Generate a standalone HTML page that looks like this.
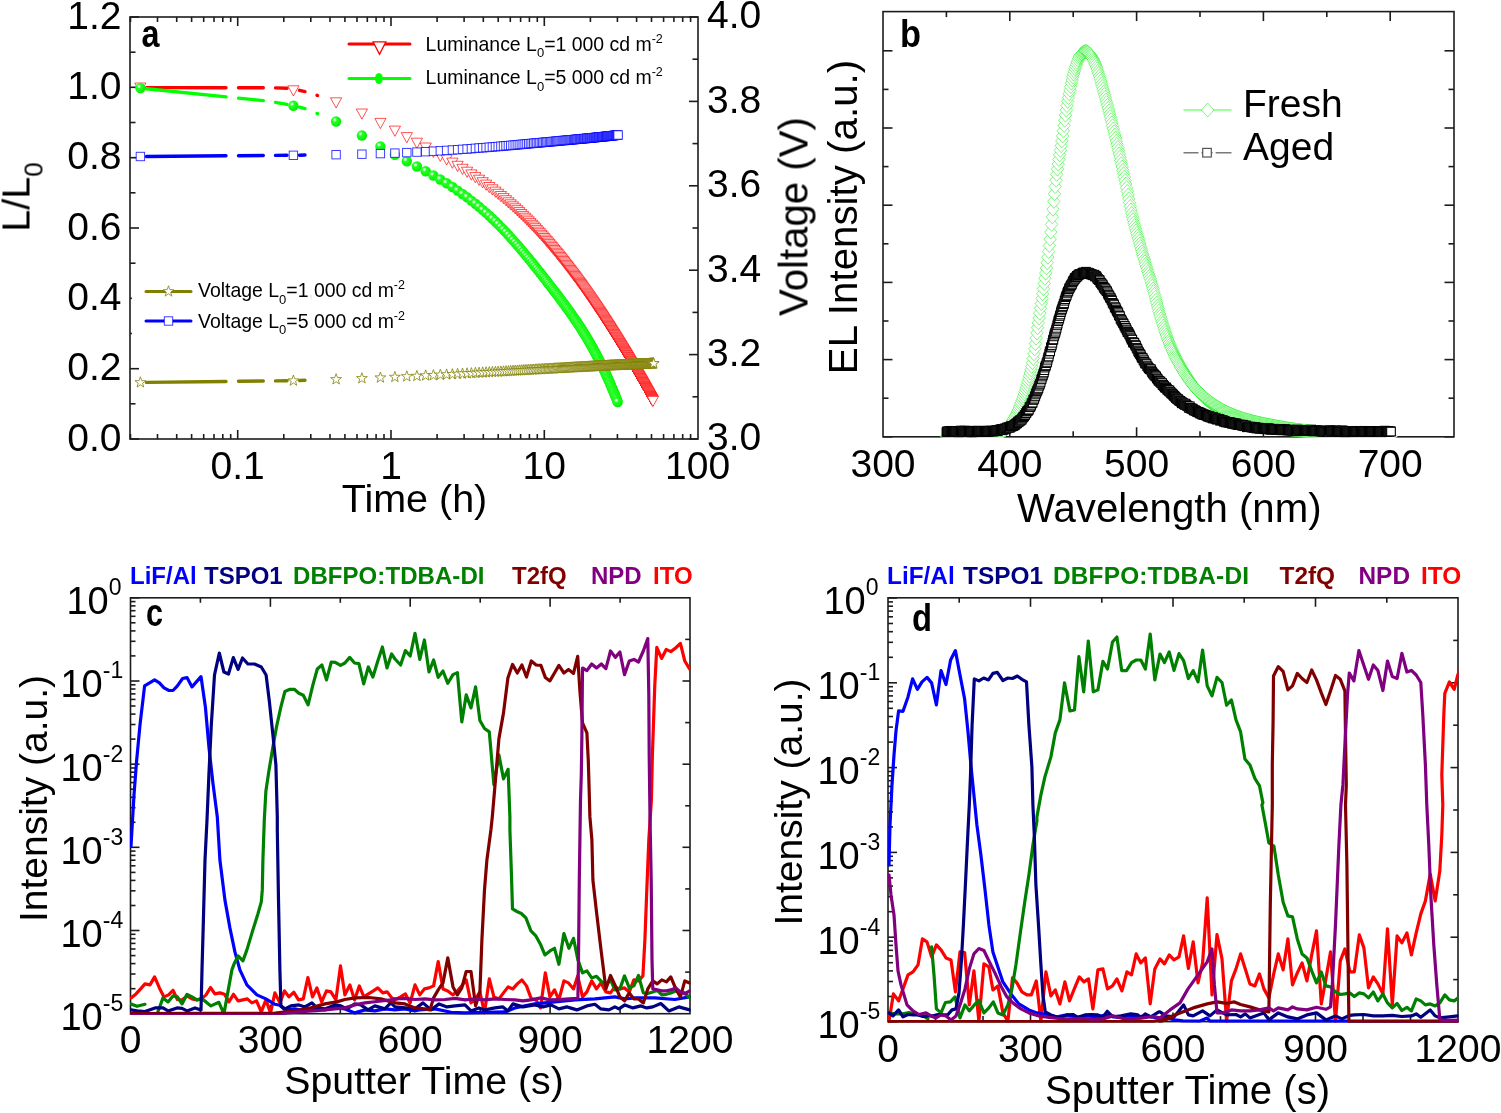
<!DOCTYPE html>
<html lang="en"><head><meta charset="utf-8"><title>Figure</title>
<style>
html,body{margin:0;padding:0;background:#fff;overflow:hidden}
svg{display:block;font-family:"Liberation Sans",Arial,sans-serif}
</style></head><body>
<svg width="1501" height="1113" viewBox="0 0 1501 1113">
<defs><filter id="soft" x="0" y="0" width="1501" height="1113" filterUnits="userSpaceOnUse" color-interpolation-filters="sRGB"><feGaussianBlur stdDeviation="0.55"/></filter>
<filter id="mark" x="0" y="0" width="1501" height="1113" filterUnits="userSpaceOnUse" color-interpolation-filters="sRGB"><feGaussianBlur stdDeviation="0.4"/></filter></defs>
<rect width="1501" height="1113" fill="#fff"/>
<g filter="url(#soft)">
<rect x="130.0" y="17.0" width="568.0" height="422.0" fill="none" stroke="#1c1c1c" stroke-width="1.6"/>
<line x1="130.0" y1="439.0" x2="139.0" y2="439.0" stroke="#1c1c1c" stroke-width="1.6" />
<text x="121.5" y="450.5" font-size="39" text-anchor="end" font-weight="normal" fill="#000" >0.0</text>
<line x1="130.0" y1="403.8" x2="135.5" y2="403.8" stroke="#1c1c1c" stroke-width="1.6" />
<line x1="130.0" y1="368.7" x2="139.0" y2="368.7" stroke="#1c1c1c" stroke-width="1.6" />
<text x="121.5" y="380.2" font-size="39" text-anchor="end" font-weight="normal" fill="#000" >0.2</text>
<line x1="130.0" y1="333.5" x2="135.5" y2="333.5" stroke="#1c1c1c" stroke-width="1.6" />
<line x1="130.0" y1="298.3" x2="139.0" y2="298.3" stroke="#1c1c1c" stroke-width="1.6" />
<text x="121.5" y="309.8" font-size="39" text-anchor="end" font-weight="normal" fill="#000" >0.4</text>
<line x1="130.0" y1="263.2" x2="135.5" y2="263.2" stroke="#1c1c1c" stroke-width="1.6" />
<line x1="130.0" y1="228.0" x2="139.0" y2="228.0" stroke="#1c1c1c" stroke-width="1.6" />
<text x="121.5" y="239.5" font-size="39" text-anchor="end" font-weight="normal" fill="#000" >0.6</text>
<line x1="130.0" y1="192.8" x2="135.5" y2="192.8" stroke="#1c1c1c" stroke-width="1.6" />
<line x1="130.0" y1="157.7" x2="139.0" y2="157.7" stroke="#1c1c1c" stroke-width="1.6" />
<text x="121.5" y="169.2" font-size="39" text-anchor="end" font-weight="normal" fill="#000" >0.8</text>
<line x1="130.0" y1="122.5" x2="135.5" y2="122.5" stroke="#1c1c1c" stroke-width="1.6" />
<line x1="130.0" y1="87.3" x2="139.0" y2="87.3" stroke="#1c1c1c" stroke-width="1.6" />
<text x="121.5" y="98.8" font-size="39" text-anchor="end" font-weight="normal" fill="#000" >1.0</text>
<line x1="130.0" y1="52.2" x2="135.5" y2="52.2" stroke="#1c1c1c" stroke-width="1.6" />
<line x1="130.0" y1="17.0" x2="139.0" y2="17.0" stroke="#1c1c1c" stroke-width="1.6" />
<text x="121.5" y="28.5" font-size="39" text-anchor="end" font-weight="normal" fill="#000" >1.2</text>
<line x1="698.0" y1="439.0" x2="689.0" y2="439.0" stroke="#1c1c1c" stroke-width="1.6" />
<text x="707.0" y="450.3" font-size="39" text-anchor="start" font-weight="normal" fill="#000" >3.0</text>
<line x1="698.0" y1="396.8" x2="692.5" y2="396.8" stroke="#1c1c1c" stroke-width="1.6" />
<line x1="698.0" y1="354.6" x2="689.0" y2="354.6" stroke="#1c1c1c" stroke-width="1.6" />
<text x="707.0" y="365.9" font-size="39" text-anchor="start" font-weight="normal" fill="#000" >3.2</text>
<line x1="698.0" y1="312.4" x2="692.5" y2="312.4" stroke="#1c1c1c" stroke-width="1.6" />
<line x1="698.0" y1="270.2" x2="689.0" y2="270.2" stroke="#1c1c1c" stroke-width="1.6" />
<text x="707.0" y="281.5" font-size="39" text-anchor="start" font-weight="normal" fill="#000" >3.4</text>
<line x1="698.0" y1="228.0" x2="692.5" y2="228.0" stroke="#1c1c1c" stroke-width="1.6" />
<line x1="698.0" y1="185.8" x2="689.0" y2="185.8" stroke="#1c1c1c" stroke-width="1.6" />
<text x="707.0" y="197.1" font-size="39" text-anchor="start" font-weight="normal" fill="#000" >3.6</text>
<line x1="698.0" y1="143.6" x2="692.5" y2="143.6" stroke="#1c1c1c" stroke-width="1.6" />
<line x1="698.0" y1="101.4" x2="689.0" y2="101.4" stroke="#1c1c1c" stroke-width="1.6" />
<text x="707.0" y="112.7" font-size="39" text-anchor="start" font-weight="normal" fill="#000" >3.8</text>
<line x1="698.0" y1="59.2" x2="692.5" y2="59.2" stroke="#1c1c1c" stroke-width="1.6" />
<line x1="698.0" y1="17.0" x2="689.0" y2="17.0" stroke="#1c1c1c" stroke-width="1.6" />
<text x="707.0" y="28.3" font-size="39" text-anchor="start" font-weight="normal" fill="#000" >4.0</text>
<line x1="130.5" y1="439.0" x2="130.5" y2="434.0" stroke="#1c1c1c" stroke-width="1.6" />
<line x1="130.5" y1="17.0" x2="130.5" y2="22.0" stroke="#1c1c1c" stroke-width="1.6" />
<line x1="157.5" y1="439.0" x2="157.5" y2="434.0" stroke="#1c1c1c" stroke-width="1.6" />
<line x1="157.5" y1="17.0" x2="157.5" y2="22.0" stroke="#1c1c1c" stroke-width="1.6" />
<line x1="176.7" y1="439.0" x2="176.7" y2="434.0" stroke="#1c1c1c" stroke-width="1.6" />
<line x1="176.7" y1="17.0" x2="176.7" y2="22.0" stroke="#1c1c1c" stroke-width="1.6" />
<line x1="191.6" y1="439.0" x2="191.6" y2="434.0" stroke="#1c1c1c" stroke-width="1.6" />
<line x1="191.6" y1="17.0" x2="191.6" y2="22.0" stroke="#1c1c1c" stroke-width="1.6" />
<line x1="203.7" y1="439.0" x2="203.7" y2="434.0" stroke="#1c1c1c" stroke-width="1.6" />
<line x1="203.7" y1="17.0" x2="203.7" y2="22.0" stroke="#1c1c1c" stroke-width="1.6" />
<line x1="214.0" y1="439.0" x2="214.0" y2="434.0" stroke="#1c1c1c" stroke-width="1.6" />
<line x1="214.0" y1="17.0" x2="214.0" y2="22.0" stroke="#1c1c1c" stroke-width="1.6" />
<line x1="222.8" y1="439.0" x2="222.8" y2="434.0" stroke="#1c1c1c" stroke-width="1.6" />
<line x1="222.8" y1="17.0" x2="222.8" y2="22.0" stroke="#1c1c1c" stroke-width="1.6" />
<line x1="230.7" y1="439.0" x2="230.7" y2="434.0" stroke="#1c1c1c" stroke-width="1.6" />
<line x1="230.7" y1="17.0" x2="230.7" y2="22.0" stroke="#1c1c1c" stroke-width="1.6" />
<line x1="237.7" y1="439.0" x2="237.7" y2="430.0" stroke="#1c1c1c" stroke-width="1.6" />
<line x1="237.7" y1="17.0" x2="237.7" y2="26.0" stroke="#1c1c1c" stroke-width="1.6" />
<line x1="283.8" y1="439.0" x2="283.8" y2="434.0" stroke="#1c1c1c" stroke-width="1.6" />
<line x1="283.8" y1="17.0" x2="283.8" y2="22.0" stroke="#1c1c1c" stroke-width="1.6" />
<line x1="310.8" y1="439.0" x2="310.8" y2="434.0" stroke="#1c1c1c" stroke-width="1.6" />
<line x1="310.8" y1="17.0" x2="310.8" y2="22.0" stroke="#1c1c1c" stroke-width="1.6" />
<line x1="330.0" y1="439.0" x2="330.0" y2="434.0" stroke="#1c1c1c" stroke-width="1.6" />
<line x1="330.0" y1="17.0" x2="330.0" y2="22.0" stroke="#1c1c1c" stroke-width="1.6" />
<line x1="344.9" y1="439.0" x2="344.9" y2="434.0" stroke="#1c1c1c" stroke-width="1.6" />
<line x1="344.9" y1="17.0" x2="344.9" y2="22.0" stroke="#1c1c1c" stroke-width="1.6" />
<line x1="357.0" y1="439.0" x2="357.0" y2="434.0" stroke="#1c1c1c" stroke-width="1.6" />
<line x1="357.0" y1="17.0" x2="357.0" y2="22.0" stroke="#1c1c1c" stroke-width="1.6" />
<line x1="367.3" y1="439.0" x2="367.3" y2="434.0" stroke="#1c1c1c" stroke-width="1.6" />
<line x1="367.3" y1="17.0" x2="367.3" y2="22.0" stroke="#1c1c1c" stroke-width="1.6" />
<line x1="376.1" y1="439.0" x2="376.1" y2="434.0" stroke="#1c1c1c" stroke-width="1.6" />
<line x1="376.1" y1="17.0" x2="376.1" y2="22.0" stroke="#1c1c1c" stroke-width="1.6" />
<line x1="384.0" y1="439.0" x2="384.0" y2="434.0" stroke="#1c1c1c" stroke-width="1.6" />
<line x1="384.0" y1="17.0" x2="384.0" y2="22.0" stroke="#1c1c1c" stroke-width="1.6" />
<line x1="391.0" y1="439.0" x2="391.0" y2="430.0" stroke="#1c1c1c" stroke-width="1.6" />
<line x1="391.0" y1="17.0" x2="391.0" y2="26.0" stroke="#1c1c1c" stroke-width="1.6" />
<line x1="437.1" y1="439.0" x2="437.1" y2="434.0" stroke="#1c1c1c" stroke-width="1.6" />
<line x1="437.1" y1="17.0" x2="437.1" y2="22.0" stroke="#1c1c1c" stroke-width="1.6" />
<line x1="464.1" y1="439.0" x2="464.1" y2="434.0" stroke="#1c1c1c" stroke-width="1.6" />
<line x1="464.1" y1="17.0" x2="464.1" y2="22.0" stroke="#1c1c1c" stroke-width="1.6" />
<line x1="483.3" y1="439.0" x2="483.3" y2="434.0" stroke="#1c1c1c" stroke-width="1.6" />
<line x1="483.3" y1="17.0" x2="483.3" y2="22.0" stroke="#1c1c1c" stroke-width="1.6" />
<line x1="498.2" y1="439.0" x2="498.2" y2="434.0" stroke="#1c1c1c" stroke-width="1.6" />
<line x1="498.2" y1="17.0" x2="498.2" y2="22.0" stroke="#1c1c1c" stroke-width="1.6" />
<line x1="510.3" y1="439.0" x2="510.3" y2="434.0" stroke="#1c1c1c" stroke-width="1.6" />
<line x1="510.3" y1="17.0" x2="510.3" y2="22.0" stroke="#1c1c1c" stroke-width="1.6" />
<line x1="520.6" y1="439.0" x2="520.6" y2="434.0" stroke="#1c1c1c" stroke-width="1.6" />
<line x1="520.6" y1="17.0" x2="520.6" y2="22.0" stroke="#1c1c1c" stroke-width="1.6" />
<line x1="529.4" y1="439.0" x2="529.4" y2="434.0" stroke="#1c1c1c" stroke-width="1.6" />
<line x1="529.4" y1="17.0" x2="529.4" y2="22.0" stroke="#1c1c1c" stroke-width="1.6" />
<line x1="537.3" y1="439.0" x2="537.3" y2="434.0" stroke="#1c1c1c" stroke-width="1.6" />
<line x1="537.3" y1="17.0" x2="537.3" y2="22.0" stroke="#1c1c1c" stroke-width="1.6" />
<line x1="544.3" y1="439.0" x2="544.3" y2="430.0" stroke="#1c1c1c" stroke-width="1.6" />
<line x1="544.3" y1="17.0" x2="544.3" y2="26.0" stroke="#1c1c1c" stroke-width="1.6" />
<line x1="590.4" y1="439.0" x2="590.4" y2="434.0" stroke="#1c1c1c" stroke-width="1.6" />
<line x1="590.4" y1="17.0" x2="590.4" y2="22.0" stroke="#1c1c1c" stroke-width="1.6" />
<line x1="617.4" y1="439.0" x2="617.4" y2="434.0" stroke="#1c1c1c" stroke-width="1.6" />
<line x1="617.4" y1="17.0" x2="617.4" y2="22.0" stroke="#1c1c1c" stroke-width="1.6" />
<line x1="636.6" y1="439.0" x2="636.6" y2="434.0" stroke="#1c1c1c" stroke-width="1.6" />
<line x1="636.6" y1="17.0" x2="636.6" y2="22.0" stroke="#1c1c1c" stroke-width="1.6" />
<line x1="651.5" y1="439.0" x2="651.5" y2="434.0" stroke="#1c1c1c" stroke-width="1.6" />
<line x1="651.5" y1="17.0" x2="651.5" y2="22.0" stroke="#1c1c1c" stroke-width="1.6" />
<line x1="663.6" y1="439.0" x2="663.6" y2="434.0" stroke="#1c1c1c" stroke-width="1.6" />
<line x1="663.6" y1="17.0" x2="663.6" y2="22.0" stroke="#1c1c1c" stroke-width="1.6" />
<line x1="673.9" y1="439.0" x2="673.9" y2="434.0" stroke="#1c1c1c" stroke-width="1.6" />
<line x1="673.9" y1="17.0" x2="673.9" y2="22.0" stroke="#1c1c1c" stroke-width="1.6" />
<line x1="682.7" y1="439.0" x2="682.7" y2="434.0" stroke="#1c1c1c" stroke-width="1.6" />
<line x1="682.7" y1="17.0" x2="682.7" y2="22.0" stroke="#1c1c1c" stroke-width="1.6" />
<line x1="690.6" y1="439.0" x2="690.6" y2="434.0" stroke="#1c1c1c" stroke-width="1.6" />
<line x1="690.6" y1="17.0" x2="690.6" y2="22.0" stroke="#1c1c1c" stroke-width="1.6" />
<text x="237.7" y="479.0" font-size="39" text-anchor="middle" font-weight="normal" fill="#000" >0.1</text>
<text x="391.0" y="479.0" font-size="39" text-anchor="middle" font-weight="normal" fill="#000" >1</text>
<text x="544.3" y="479.0" font-size="39" text-anchor="middle" font-weight="normal" fill="#000" >10</text>
<text x="697.6" y="479.0" font-size="39" text-anchor="middle" font-weight="normal" fill="#000" >100</text>
<text x="414.5" y="511.5" font-size="39.5" text-anchor="middle" font-weight="normal" fill="#000" >Time (h)</text>
<text x="29.5" y="197.0" font-size="39.5" text-anchor="middle" font-weight="normal" fill="#000" transform="rotate(-90 29.5 197.0)" >L/L<tspan font-size="26" dy="13">0</tspan></text>
<text x="807.0" y="216.5" font-size="40.2" text-anchor="middle" font-weight="normal" fill="#000" transform="rotate(-90 807.0 216.5)" >Voltage (V)</text>
<text x="141.5" y="46.7" font-size="38" text-anchor="start" font-weight="bold" fill="#000" textLength="18" lengthAdjust="spacingAndGlyphs">a</text>
<defs>
<radialGradient id="sg" cx="0.36" cy="0.34" r="0.7"><stop offset="0" stop-color="#f4fff4"/><stop offset="0.12" stop-color="#c8ffc8"/><stop offset="0.3" stop-color="#22ff22"/><stop offset="1" stop-color="#00ee00"/></radialGradient>
<path id="mt" d="M-5.6,-4.8H5.6L0,5.4Z" fill="#fff" stroke="#ff0000" stroke-opacity="0.8" stroke-width="0.85"/>
<circle id="ms" r="5.2" fill="url(#sg)"/>
<rect id="mq" x="-4.2" y="-4.2" width="8.4" height="8.4" fill="#fff" stroke="#0000ff" stroke-opacity="0.8" stroke-width="0.95"/>
<path id="mo" transform="scale(0.92)" d="M0,-6.2L1.46,-2.01L5.9,-1.92L2.36,0.77L3.64,5.02L0,2.48L-3.64,5.02L-2.36,0.77L-5.9,-1.92L-1.46,-2.01Z" fill="#fff" stroke="#808000" stroke-width="0.85"/>
</defs>
<polyline points="146.5,87.6 226.0,87.7" fill="none" stroke="#ff0000" stroke-width="3.4" stroke-linejoin="round" stroke-linecap="round" />
<polyline points="238.5,87.7 263.3,87.7" fill="none" stroke="#ff0000" stroke-width="3.4" stroke-linejoin="round" stroke-linecap="round" />
<polyline points="275.5,87.9 287.0,88.3" fill="none" stroke="#ff0000" stroke-width="3.4" stroke-linejoin="round" stroke-linecap="round" />
<polyline points="299.5,90.3 305.0,91.6" fill="none" stroke="#ff0000" stroke-width="3.4" stroke-linejoin="round" stroke-linecap="round" />
<polyline points="317.0,95.3 317.3,95.4 317.6,95.5" fill="none" stroke="#ff0000" stroke-width="3.4" stroke-linejoin="round" stroke-linecap="round" />
</g>
<g filter="url(#mark)">
<g><use href="#mt" x="140.4" y="87.8"/><use href="#mt" x="293.4" y="90.6"/><use href="#mt" x="336.1" y="102.6"/><use href="#mt" x="361.9" y="113.8"/><use href="#mt" x="380.4" y="123.2"/><use href="#mt" x="394.9" y="130.9"/><use href="#mt" x="406.8" y="137.4"/><use href="#mt" x="416.9" y="143.0"/><use href="#mt" x="425.7" y="147.8"/><use href="#mt" x="433.4" y="152.1"/><use href="#mt" x="440.3" y="156.0"/><use href="#mt" x="446.6" y="159.6"/><use href="#mt" x="452.4" y="162.9"/><use href="#mt" x="457.6" y="166.1"/><use href="#mt" x="462.5" y="169.1"/><use href="#mt" x="467.1" y="172.0"/><use href="#mt" x="471.4" y="174.7"/><use href="#mt" x="475.4" y="177.4"/><use href="#mt" x="479.1" y="180.0"/><use href="#mt" x="482.7" y="182.5"/><use href="#mt" x="486.1" y="184.9"/><use href="#mt" x="489.3" y="187.3"/><use href="#mt" x="492.4" y="189.6"/><use href="#mt" x="495.4" y="191.9"/><use href="#mt" x="498.2" y="194.1"/><use href="#mt" x="500.9" y="196.3"/><use href="#mt" x="503.5" y="198.4"/><use href="#mt" x="506.0" y="200.5"/><use href="#mt" x="508.4" y="202.6"/><use href="#mt" x="510.7" y="204.6"/><use href="#mt" x="513.0" y="206.6"/><use href="#mt" x="515.2" y="208.6"/><use href="#mt" x="517.3" y="210.5"/><use href="#mt" x="519.3" y="212.4"/><use href="#mt" x="521.3" y="214.3"/><use href="#mt" x="523.2" y="216.2"/><use href="#mt" x="525.1" y="218.0"/><use href="#mt" x="526.9" y="219.8"/><use href="#mt" x="528.7" y="221.6"/><use href="#mt" x="530.4" y="223.4"/><use href="#mt" x="532.1" y="225.1"/><use href="#mt" x="533.7" y="226.8"/><use href="#mt" x="535.3" y="228.5"/><use href="#mt" x="536.9" y="230.2"/><use href="#mt" x="538.4" y="231.9"/><use href="#mt" x="539.9" y="233.5"/><use href="#mt" x="541.4" y="235.1"/><use href="#mt" x="542.8" y="236.7"/><use href="#mt" x="544.2" y="238.3"/><use href="#mt" x="545.6" y="239.9"/><use href="#mt" x="546.9" y="241.4"/><use href="#mt" x="548.2" y="242.9"/><use href="#mt" x="549.5" y="244.4"/><use href="#mt" x="550.8" y="245.9"/><use href="#mt" x="552.0" y="247.4"/><use href="#mt" x="553.2" y="248.9"/><use href="#mt" x="554.4" y="250.3"/><use href="#mt" x="555.6" y="251.7"/><use href="#mt" x="556.8" y="253.1"/><use href="#mt" x="557.9" y="254.5"/><use href="#mt" x="559.0" y="255.9"/><use href="#mt" x="560.1" y="257.3"/><use href="#mt" x="561.2" y="258.6"/><use href="#mt" x="562.3" y="260.0"/><use href="#mt" x="563.3" y="261.3"/><use href="#mt" x="564.3" y="262.6"/><use href="#mt" x="565.3" y="263.9"/><use href="#mt" x="566.3" y="265.2"/><use href="#mt" x="567.3" y="266.5"/><use href="#mt" x="568.3" y="267.8"/><use href="#mt" x="569.3" y="269.0"/><use href="#mt" x="570.2" y="270.3"/><use href="#mt" x="571.1" y="271.5"/><use href="#mt" x="572.0" y="272.7"/><use href="#mt" x="573.0" y="273.9"/><use href="#mt" x="573.8" y="275.1"/><use href="#mt" x="574.7" y="276.3"/><use href="#mt" x="575.6" y="277.5"/><use href="#mt" x="576.5" y="278.6"/><use href="#mt" x="577.3" y="279.8"/><use href="#mt" x="578.1" y="280.9"/><use href="#mt" x="579.0" y="282.1"/><use href="#mt" x="579.8" y="283.2"/><use href="#mt" x="580.6" y="284.3"/><use href="#mt" x="581.4" y="285.4"/><use href="#mt" x="582.2" y="286.5"/><use href="#mt" x="582.9" y="287.6"/><use href="#mt" x="583.7" y="288.7"/><use href="#mt" x="584.5" y="289.8"/><use href="#mt" x="585.2" y="290.8"/><use href="#mt" x="586.0" y="291.9"/><use href="#mt" x="586.7" y="293.0"/><use href="#mt" x="587.4" y="294.0"/><use href="#mt" x="588.1" y="295.0"/><use href="#mt" x="588.9" y="296.1"/><use href="#mt" x="589.6" y="297.1"/><use href="#mt" x="590.3" y="298.1"/><use href="#mt" x="590.9" y="299.1"/><use href="#mt" x="591.6" y="300.1"/><use href="#mt" x="592.3" y="301.1"/><use href="#mt" x="593.0" y="302.1"/><use href="#mt" x="593.6" y="303.0"/><use href="#mt" x="594.3" y="304.0"/><use href="#mt" x="594.9" y="305.0"/><use href="#mt" x="595.6" y="305.9"/><use href="#mt" x="596.2" y="306.9"/><use href="#mt" x="596.8" y="307.8"/><use href="#mt" x="597.5" y="308.8"/><use href="#mt" x="598.1" y="309.7"/><use href="#mt" x="598.7" y="310.6"/><use href="#mt" x="599.3" y="311.5"/><use href="#mt" x="599.9" y="312.4"/><use href="#mt" x="600.5" y="313.3"/><use href="#mt" x="601.1" y="314.2"/><use href="#mt" x="601.7" y="315.1"/><use href="#mt" x="602.3" y="316.0"/><use href="#mt" x="602.8" y="316.9"/><use href="#mt" x="603.4" y="317.8"/><use href="#mt" x="604.0" y="318.7"/><use href="#mt" x="604.5" y="319.5"/><use href="#mt" x="605.1" y="320.4"/><use href="#mt" x="605.7" y="321.2"/><use href="#mt" x="606.2" y="322.1"/><use href="#mt" x="606.7" y="322.9"/><use href="#mt" x="607.3" y="323.8"/><use href="#mt" x="607.8" y="324.6"/><use href="#mt" x="608.3" y="325.4"/><use href="#mt" x="608.9" y="326.3"/><use href="#mt" x="609.4" y="327.1"/><use href="#mt" x="609.9" y="327.9"/><use href="#mt" x="610.4" y="328.7"/><use href="#mt" x="610.9" y="329.5"/><use href="#mt" x="611.4" y="330.3"/><use href="#mt" x="611.9" y="331.1"/><use href="#mt" x="612.4" y="331.9"/><use href="#mt" x="612.9" y="332.7"/><use href="#mt" x="613.4" y="333.5"/><use href="#mt" x="613.9" y="334.3"/><use href="#mt" x="614.4" y="335.1"/><use href="#mt" x="614.9" y="335.8"/><use href="#mt" x="615.4" y="336.6"/><use href="#mt" x="615.8" y="337.4"/><use href="#mt" x="616.3" y="338.1"/><use href="#mt" x="616.8" y="338.9"/><use href="#mt" x="617.2" y="339.6"/><use href="#mt" x="617.7" y="340.4"/><use href="#mt" x="618.1" y="341.1"/><use href="#mt" x="618.6" y="341.9"/><use href="#mt" x="619.1" y="342.6"/><use href="#mt" x="619.5" y="343.3"/><use href="#mt" x="619.9" y="344.1"/><use href="#mt" x="620.4" y="344.8"/><use href="#mt" x="620.8" y="345.5"/><use href="#mt" x="621.3" y="346.2"/><use href="#mt" x="621.7" y="346.9"/><use href="#mt" x="622.1" y="347.7"/><use href="#mt" x="622.6" y="348.4"/><use href="#mt" x="623.0" y="349.1"/><use href="#mt" x="623.4" y="349.8"/><use href="#mt" x="623.8" y="350.5"/><use href="#mt" x="624.2" y="351.2"/><use href="#mt" x="624.7" y="351.9"/><use href="#mt" x="625.1" y="352.5"/><use href="#mt" x="625.5" y="353.2"/><use href="#mt" x="625.9" y="353.9"/><use href="#mt" x="626.3" y="354.6"/><use href="#mt" x="626.7" y="355.3"/><use href="#mt" x="627.1" y="355.9"/><use href="#mt" x="627.5" y="356.6"/><use href="#mt" x="627.9" y="357.3"/><use href="#mt" x="628.3" y="357.9"/><use href="#mt" x="628.7" y="358.6"/><use href="#mt" x="629.0" y="359.2"/><use href="#mt" x="629.4" y="359.9"/><use href="#mt" x="629.8" y="360.6"/><use href="#mt" x="630.2" y="361.2"/><use href="#mt" x="630.6" y="361.8"/><use href="#mt" x="631.0" y="362.5"/><use href="#mt" x="631.3" y="363.1"/><use href="#mt" x="631.7" y="363.8"/><use href="#mt" x="632.1" y="364.4"/><use href="#mt" x="632.4" y="365.0"/><use href="#mt" x="632.8" y="365.7"/><use href="#mt" x="633.2" y="366.3"/><use href="#mt" x="633.5" y="366.9"/><use href="#mt" x="633.9" y="367.5"/><use href="#mt" x="634.3" y="368.1"/><use href="#mt" x="634.6" y="368.8"/><use href="#mt" x="635.0" y="369.4"/><use href="#mt" x="635.3" y="370.0"/><use href="#mt" x="635.7" y="370.6"/><use href="#mt" x="636.0" y="371.2"/><use href="#mt" x="636.4" y="371.8"/><use href="#mt" x="636.7" y="372.4"/><use href="#mt" x="637.1" y="373.0"/><use href="#mt" x="637.4" y="373.6"/><use href="#mt" x="637.7" y="374.2"/><use href="#mt" x="638.1" y="374.8"/><use href="#mt" x="638.4" y="375.4"/><use href="#mt" x="638.8" y="376.0"/><use href="#mt" x="639.1" y="376.5"/><use href="#mt" x="639.4" y="377.1"/><use href="#mt" x="639.7" y="377.7"/><use href="#mt" x="640.1" y="378.3"/><use href="#mt" x="640.4" y="378.9"/><use href="#mt" x="640.7" y="379.4"/><use href="#mt" x="641.1" y="380.0"/><use href="#mt" x="641.4" y="380.6"/><use href="#mt" x="641.7" y="381.1"/><use href="#mt" x="642.0" y="381.7"/><use href="#mt" x="642.3" y="382.3"/><use href="#mt" x="642.6" y="382.8"/><use href="#mt" x="643.0" y="383.4"/><use href="#mt" x="643.3" y="383.9"/><use href="#mt" x="643.6" y="384.5"/><use href="#mt" x="643.9" y="385.0"/><use href="#mt" x="644.2" y="385.6"/><use href="#mt" x="644.5" y="386.1"/><use href="#mt" x="644.8" y="386.7"/><use href="#mt" x="645.1" y="387.2"/><use href="#mt" x="645.4" y="387.8"/><use href="#mt" x="645.7" y="388.3"/><use href="#mt" x="646.0" y="388.8"/><use href="#mt" x="646.3" y="389.4"/><use href="#mt" x="646.6" y="389.9"/><use href="#mt" x="646.9" y="390.4"/><use href="#mt" x="647.2" y="391.0"/><use href="#mt" x="647.5" y="391.5"/><use href="#mt" x="647.8" y="392.0"/><use href="#mt" x="648.1" y="392.5"/><use href="#mt" x="648.4" y="393.1"/><use href="#mt" x="648.7" y="393.6"/><use href="#mt" x="649.0" y="394.1"/><use href="#mt" x="649.2" y="394.6"/><use href="#mt" x="649.5" y="395.1"/><use href="#mt" x="649.8" y="395.7"/><use href="#mt" x="650.1" y="396.2"/><use href="#mt" x="650.4" y="396.7"/><use href="#mt" x="650.7" y="397.2"/><use href="#mt" x="650.9" y="397.7"/><use href="#mt" x="651.2" y="398.2"/><use href="#mt" x="651.5" y="398.7"/><use href="#mt" x="651.8" y="399.2"/><use href="#mt" x="652.0" y="399.7"/><use href="#mt" x="652.3" y="400.2"/><use href="#mt" x="652.6" y="400.7"/><use href="#mt" x="652.9" y="401.2"/></g>
</g>
<g filter="url(#soft)">
<polyline points="146.5,88.7 226.0,96.9" fill="none" stroke="#00ff00" stroke-width="3.4" stroke-linejoin="round" stroke-linecap="round" />
<polyline points="238.5,98.1 263.3,100.6" fill="none" stroke="#00ff00" stroke-width="3.4" stroke-linejoin="round" stroke-linecap="round" />
<polyline points="275.5,102.4 287.0,104.4" fill="none" stroke="#00ff00" stroke-width="3.4" stroke-linejoin="round" stroke-linecap="round" />
<polyline points="299.5,107.2 305.0,108.6" fill="none" stroke="#00ff00" stroke-width="3.4" stroke-linejoin="round" stroke-linecap="round" />
<polyline points="317.0,113.5 317.3,113.6 317.6,113.7" fill="none" stroke="#00ff00" stroke-width="3.4" stroke-linejoin="round" stroke-linecap="round" />
</g>
<g filter="url(#mark)">
<g><use href="#ms" x="140.4" y="88.1"/><use href="#ms" x="293.4" y="105.7"/><use href="#ms" x="336.1" y="121.5"/><use href="#ms" x="361.9" y="135.5"/><use href="#ms" x="380.4" y="146.4"/><use href="#ms" x="394.9" y="154.8"/><use href="#ms" x="406.8" y="161.2"/><use href="#ms" x="416.9" y="166.5"/><use href="#ms" x="425.7" y="171.2"/><use href="#ms" x="433.4" y="175.5"/><use href="#ms" x="440.3" y="179.5"/><use href="#ms" x="446.6" y="183.3"/><use href="#ms" x="452.4" y="187.0"/><use href="#ms" x="457.6" y="190.6"/><use href="#ms" x="462.5" y="194.0"/><use href="#ms" x="467.1" y="197.3"/><use href="#ms" x="471.4" y="200.6"/><use href="#ms" x="475.4" y="203.7"/><use href="#ms" x="479.1" y="206.8"/><use href="#ms" x="482.7" y="209.9"/><use href="#ms" x="486.1" y="212.9"/><use href="#ms" x="489.3" y="215.8"/><use href="#ms" x="492.4" y="218.7"/><use href="#ms" x="495.4" y="221.5"/><use href="#ms" x="498.2" y="224.3"/><use href="#ms" x="500.9" y="227.1"/><use href="#ms" x="503.5" y="229.8"/><use href="#ms" x="506.0" y="232.4"/><use href="#ms" x="508.4" y="235.0"/><use href="#ms" x="510.7" y="237.6"/><use href="#ms" x="513.0" y="240.1"/><use href="#ms" x="515.2" y="242.6"/><use href="#ms" x="517.3" y="245.0"/><use href="#ms" x="519.3" y="247.3"/><use href="#ms" x="521.3" y="249.7"/><use href="#ms" x="523.2" y="251.9"/><use href="#ms" x="525.1" y="254.2"/><use href="#ms" x="526.9" y="256.4"/><use href="#ms" x="528.7" y="258.5"/><use href="#ms" x="530.4" y="260.6"/><use href="#ms" x="532.1" y="262.7"/><use href="#ms" x="533.7" y="264.8"/><use href="#ms" x="535.3" y="266.7"/><use href="#ms" x="536.9" y="268.7"/><use href="#ms" x="538.4" y="270.6"/><use href="#ms" x="539.9" y="272.5"/><use href="#ms" x="541.4" y="274.4"/><use href="#ms" x="542.8" y="276.2"/><use href="#ms" x="544.2" y="278.0"/><use href="#ms" x="545.6" y="279.8"/><use href="#ms" x="546.9" y="281.5"/><use href="#ms" x="548.2" y="283.2"/><use href="#ms" x="549.5" y="284.9"/><use href="#ms" x="550.8" y="286.5"/><use href="#ms" x="552.0" y="288.1"/><use href="#ms" x="553.2" y="289.7"/><use href="#ms" x="554.4" y="291.3"/><use href="#ms" x="555.6" y="292.8"/><use href="#ms" x="556.8" y="294.3"/><use href="#ms" x="557.9" y="295.8"/><use href="#ms" x="559.0" y="297.3"/><use href="#ms" x="560.1" y="298.8"/><use href="#ms" x="561.2" y="300.2"/><use href="#ms" x="562.3" y="301.6"/><use href="#ms" x="563.3" y="303.0"/><use href="#ms" x="564.3" y="304.4"/><use href="#ms" x="565.3" y="305.8"/><use href="#ms" x="566.3" y="307.2"/><use href="#ms" x="567.3" y="308.5"/><use href="#ms" x="568.3" y="309.8"/><use href="#ms" x="569.3" y="311.2"/><use href="#ms" x="570.2" y="312.5"/><use href="#ms" x="571.1" y="313.8"/><use href="#ms" x="572.0" y="315.1"/><use href="#ms" x="573.0" y="316.4"/><use href="#ms" x="573.8" y="317.7"/><use href="#ms" x="574.7" y="319.0"/><use href="#ms" x="575.6" y="320.3"/><use href="#ms" x="576.5" y="321.5"/><use href="#ms" x="577.3" y="322.8"/><use href="#ms" x="578.1" y="324.0"/><use href="#ms" x="579.0" y="325.3"/><use href="#ms" x="579.8" y="326.5"/><use href="#ms" x="580.6" y="327.8"/><use href="#ms" x="581.4" y="329.0"/><use href="#ms" x="582.2" y="330.3"/><use href="#ms" x="582.9" y="331.5"/><use href="#ms" x="583.7" y="332.7"/><use href="#ms" x="584.5" y="334.0"/><use href="#ms" x="585.2" y="335.2"/><use href="#ms" x="586.0" y="336.4"/><use href="#ms" x="586.7" y="337.6"/><use href="#ms" x="587.4" y="338.8"/><use href="#ms" x="588.1" y="340.0"/><use href="#ms" x="588.9" y="341.3"/><use href="#ms" x="589.6" y="342.5"/><use href="#ms" x="590.3" y="343.7"/><use href="#ms" x="590.9" y="344.9"/><use href="#ms" x="591.6" y="346.1"/><use href="#ms" x="592.3" y="347.3"/><use href="#ms" x="593.0" y="348.5"/><use href="#ms" x="593.6" y="349.7"/><use href="#ms" x="594.3" y="350.9"/><use href="#ms" x="594.9" y="352.1"/><use href="#ms" x="595.6" y="353.3"/><use href="#ms" x="596.2" y="354.5"/><use href="#ms" x="596.8" y="355.7"/><use href="#ms" x="597.5" y="356.9"/><use href="#ms" x="598.1" y="358.0"/><use href="#ms" x="598.7" y="359.2"/><use href="#ms" x="599.3" y="360.4"/><use href="#ms" x="599.9" y="361.6"/><use href="#ms" x="600.5" y="362.8"/><use href="#ms" x="601.1" y="364.0"/><use href="#ms" x="601.7" y="365.2"/><use href="#ms" x="602.3" y="366.4"/><use href="#ms" x="602.8" y="367.6"/><use href="#ms" x="603.4" y="368.8"/><use href="#ms" x="604.0" y="369.9"/><use href="#ms" x="604.5" y="371.1"/><use href="#ms" x="605.1" y="372.3"/><use href="#ms" x="605.7" y="373.5"/><use href="#ms" x="606.2" y="374.7"/><use href="#ms" x="606.7" y="375.9"/><use href="#ms" x="607.3" y="377.1"/><use href="#ms" x="607.8" y="378.3"/><use href="#ms" x="608.3" y="379.4"/><use href="#ms" x="608.9" y="380.6"/><use href="#ms" x="609.4" y="381.8"/><use href="#ms" x="609.9" y="383.0"/><use href="#ms" x="610.4" y="384.2"/><use href="#ms" x="610.9" y="385.4"/><use href="#ms" x="611.4" y="386.6"/><use href="#ms" x="611.9" y="387.7"/><use href="#ms" x="612.4" y="388.9"/><use href="#ms" x="612.9" y="390.1"/><use href="#ms" x="613.4" y="391.3"/><use href="#ms" x="613.9" y="392.5"/><use href="#ms" x="614.4" y="393.7"/><use href="#ms" x="614.9" y="394.9"/><use href="#ms" x="615.4" y="396.0"/><use href="#ms" x="615.8" y="397.2"/><use href="#ms" x="616.3" y="398.4"/><use href="#ms" x="616.8" y="399.6"/><use href="#ms" x="617.2" y="400.8"/><use href="#ms" x="617.7" y="402.0"/></g>
</g>
<g filter="url(#soft)">
<polyline points="146.5,382.4 226.0,381.5" fill="none" stroke="#808000" stroke-width="3.4" stroke-linejoin="round" stroke-linecap="round" />
<polyline points="238.5,381.3 263.3,381.0" fill="none" stroke="#808000" stroke-width="3.4" stroke-linejoin="round" stroke-linecap="round" />
<polyline points="275.5,380.9 287.0,380.8" fill="none" stroke="#808000" stroke-width="3.4" stroke-linejoin="round" stroke-linecap="round" />
<polyline points="299.5,380.5 305.0,380.3" fill="none" stroke="#808000" stroke-width="3.4" stroke-linejoin="round" stroke-linecap="round" />
</g>
<g filter="url(#mark)">
<g><use href="#mo" x="140.4" y="382.5"/><use href="#mo" x="293.4" y="380.7"/><use href="#mo" x="336.1" y="379.4"/><use href="#mo" x="361.9" y="378.4"/><use href="#mo" x="380.4" y="377.7"/><use href="#mo" x="394.9" y="377.1"/><use href="#mo" x="406.8" y="376.5"/><use href="#mo" x="416.9" y="376.1"/><use href="#mo" x="425.7" y="375.6"/><use href="#mo" x="433.4" y="375.3"/><use href="#mo" x="440.3" y="374.9"/><use href="#mo" x="446.6" y="374.6"/><use href="#mo" x="452.4" y="374.3"/><use href="#mo" x="457.6" y="374.0"/><use href="#mo" x="462.5" y="373.7"/><use href="#mo" x="467.1" y="373.5"/><use href="#mo" x="471.4" y="373.3"/><use href="#mo" x="475.4" y="373.0"/><use href="#mo" x="479.1" y="372.8"/><use href="#mo" x="482.7" y="372.6"/><use href="#mo" x="486.1" y="372.4"/><use href="#mo" x="489.3" y="372.3"/><use href="#mo" x="492.4" y="372.1"/><use href="#mo" x="495.4" y="371.9"/><use href="#mo" x="498.2" y="371.8"/><use href="#mo" x="500.9" y="371.6"/><use href="#mo" x="503.5" y="371.5"/><use href="#mo" x="506.0" y="371.3"/><use href="#mo" x="508.4" y="371.2"/><use href="#mo" x="510.7" y="371.0"/><use href="#mo" x="513.0" y="370.9"/><use href="#mo" x="515.2" y="370.8"/><use href="#mo" x="517.3" y="370.7"/><use href="#mo" x="519.3" y="370.5"/><use href="#mo" x="521.3" y="370.4"/><use href="#mo" x="523.2" y="370.3"/><use href="#mo" x="525.1" y="370.2"/><use href="#mo" x="526.9" y="370.1"/><use href="#mo" x="528.7" y="370.0"/><use href="#mo" x="530.4" y="369.9"/><use href="#mo" x="532.1" y="369.8"/><use href="#mo" x="533.7" y="369.7"/><use href="#mo" x="535.3" y="369.6"/><use href="#mo" x="536.9" y="369.5"/><use href="#mo" x="538.4" y="369.4"/><use href="#mo" x="539.9" y="369.3"/><use href="#mo" x="541.4" y="369.3"/><use href="#mo" x="542.8" y="369.2"/><use href="#mo" x="544.2" y="369.1"/><use href="#mo" x="545.6" y="369.0"/><use href="#mo" x="546.9" y="368.9"/><use href="#mo" x="548.2" y="368.9"/><use href="#mo" x="549.5" y="368.8"/><use href="#mo" x="550.8" y="368.7"/><use href="#mo" x="552.0" y="368.7"/><use href="#mo" x="553.2" y="368.6"/><use href="#mo" x="554.4" y="368.5"/><use href="#mo" x="555.6" y="368.4"/><use href="#mo" x="556.8" y="368.4"/><use href="#mo" x="557.9" y="368.3"/><use href="#mo" x="559.0" y="368.3"/><use href="#mo" x="560.1" y="368.2"/><use href="#mo" x="561.2" y="368.1"/><use href="#mo" x="562.3" y="368.1"/><use href="#mo" x="563.3" y="368.0"/><use href="#mo" x="564.3" y="368.0"/><use href="#mo" x="565.3" y="367.9"/><use href="#mo" x="566.3" y="367.8"/><use href="#mo" x="567.3" y="367.8"/><use href="#mo" x="568.3" y="367.7"/><use href="#mo" x="569.3" y="367.7"/><use href="#mo" x="570.2" y="367.6"/><use href="#mo" x="571.1" y="367.6"/><use href="#mo" x="572.0" y="367.5"/><use href="#mo" x="573.0" y="367.5"/><use href="#mo" x="573.8" y="367.4"/><use href="#mo" x="574.7" y="367.4"/><use href="#mo" x="575.6" y="367.3"/><use href="#mo" x="576.5" y="367.3"/><use href="#mo" x="577.3" y="367.2"/><use href="#mo" x="578.1" y="367.2"/><use href="#mo" x="579.0" y="367.1"/><use href="#mo" x="579.8" y="367.1"/><use href="#mo" x="580.6" y="367.1"/><use href="#mo" x="581.4" y="367.0"/><use href="#mo" x="582.2" y="367.0"/><use href="#mo" x="582.9" y="366.9"/><use href="#mo" x="583.7" y="366.9"/><use href="#mo" x="584.5" y="366.8"/><use href="#mo" x="585.2" y="366.8"/><use href="#mo" x="586.0" y="366.8"/><use href="#mo" x="586.7" y="366.7"/><use href="#mo" x="587.4" y="366.7"/><use href="#mo" x="588.1" y="366.6"/><use href="#mo" x="588.9" y="366.6"/><use href="#mo" x="589.6" y="366.6"/><use href="#mo" x="590.3" y="366.5"/><use href="#mo" x="590.9" y="366.5"/><use href="#mo" x="591.6" y="366.5"/><use href="#mo" x="592.3" y="366.4"/><use href="#mo" x="593.0" y="366.4"/><use href="#mo" x="593.6" y="366.3"/><use href="#mo" x="594.3" y="366.3"/><use href="#mo" x="594.9" y="366.3"/><use href="#mo" x="595.6" y="366.2"/><use href="#mo" x="596.2" y="366.2"/><use href="#mo" x="596.8" y="366.2"/><use href="#mo" x="597.5" y="366.1"/><use href="#mo" x="598.1" y="366.1"/><use href="#mo" x="598.7" y="366.1"/><use href="#mo" x="599.3" y="366.0"/><use href="#mo" x="599.9" y="366.0"/><use href="#mo" x="600.5" y="366.0"/><use href="#mo" x="601.1" y="366.0"/><use href="#mo" x="601.7" y="365.9"/><use href="#mo" x="602.3" y="365.9"/><use href="#mo" x="602.8" y="365.9"/><use href="#mo" x="603.4" y="365.8"/><use href="#mo" x="604.0" y="365.8"/><use href="#mo" x="604.5" y="365.8"/><use href="#mo" x="605.1" y="365.7"/><use href="#mo" x="605.7" y="365.7"/><use href="#mo" x="606.2" y="365.7"/><use href="#mo" x="606.7" y="365.7"/><use href="#mo" x="607.3" y="365.6"/><use href="#mo" x="607.8" y="365.6"/><use href="#mo" x="608.3" y="365.6"/><use href="#mo" x="608.9" y="365.6"/><use href="#mo" x="609.4" y="365.5"/><use href="#mo" x="609.9" y="365.5"/><use href="#mo" x="610.4" y="365.5"/><use href="#mo" x="610.9" y="365.5"/><use href="#mo" x="611.4" y="365.4"/><use href="#mo" x="611.9" y="365.4"/><use href="#mo" x="612.4" y="365.4"/><use href="#mo" x="612.9" y="365.4"/><use href="#mo" x="613.4" y="365.3"/><use href="#mo" x="613.9" y="365.3"/><use href="#mo" x="614.4" y="365.3"/><use href="#mo" x="614.9" y="365.3"/><use href="#mo" x="615.4" y="365.2"/><use href="#mo" x="615.8" y="365.2"/><use href="#mo" x="616.3" y="365.2"/><use href="#mo" x="616.8" y="365.2"/><use href="#mo" x="617.2" y="365.1"/><use href="#mo" x="617.7" y="365.1"/><use href="#mo" x="618.1" y="365.1"/><use href="#mo" x="618.6" y="365.1"/><use href="#mo" x="619.1" y="365.0"/><use href="#mo" x="619.5" y="365.0"/><use href="#mo" x="619.9" y="365.0"/><use href="#mo" x="620.4" y="365.0"/><use href="#mo" x="620.8" y="365.0"/><use href="#mo" x="621.3" y="364.9"/><use href="#mo" x="621.7" y="364.9"/><use href="#mo" x="622.1" y="364.9"/><use href="#mo" x="622.6" y="364.9"/><use href="#mo" x="623.0" y="364.9"/><use href="#mo" x="623.4" y="364.8"/><use href="#mo" x="623.8" y="364.8"/><use href="#mo" x="624.2" y="364.8"/><use href="#mo" x="624.7" y="364.8"/><use href="#mo" x="625.1" y="364.8"/><use href="#mo" x="625.5" y="364.7"/><use href="#mo" x="625.9" y="364.7"/><use href="#mo" x="626.3" y="364.7"/><use href="#mo" x="626.7" y="364.7"/><use href="#mo" x="627.1" y="364.7"/><use href="#mo" x="627.5" y="364.6"/><use href="#mo" x="627.9" y="364.6"/><use href="#mo" x="628.3" y="364.6"/><use href="#mo" x="628.7" y="364.6"/><use href="#mo" x="629.0" y="364.6"/><use href="#mo" x="629.4" y="364.6"/><use href="#mo" x="629.8" y="364.5"/><use href="#mo" x="630.2" y="364.5"/><use href="#mo" x="630.6" y="364.5"/><use href="#mo" x="631.0" y="364.5"/><use href="#mo" x="631.3" y="364.5"/><use href="#mo" x="631.7" y="364.4"/><use href="#mo" x="632.1" y="364.4"/><use href="#mo" x="632.4" y="364.4"/><use href="#mo" x="632.8" y="364.4"/><use href="#mo" x="633.2" y="364.4"/><use href="#mo" x="633.5" y="364.4"/><use href="#mo" x="633.9" y="364.3"/><use href="#mo" x="634.3" y="364.3"/><use href="#mo" x="634.6" y="364.3"/><use href="#mo" x="635.0" y="364.3"/><use href="#mo" x="635.3" y="364.3"/><use href="#mo" x="635.7" y="364.3"/><use href="#mo" x="636.0" y="364.3"/><use href="#mo" x="636.4" y="364.2"/><use href="#mo" x="636.7" y="364.2"/><use href="#mo" x="637.1" y="364.2"/><use href="#mo" x="637.4" y="364.2"/><use href="#mo" x="637.7" y="364.2"/><use href="#mo" x="638.1" y="364.2"/><use href="#mo" x="638.4" y="364.1"/><use href="#mo" x="638.8" y="364.1"/><use href="#mo" x="639.1" y="364.1"/><use href="#mo" x="639.4" y="364.1"/><use href="#mo" x="639.7" y="364.1"/><use href="#mo" x="640.1" y="364.1"/><use href="#mo" x="640.4" y="364.1"/><use href="#mo" x="640.7" y="364.0"/><use href="#mo" x="641.1" y="364.0"/><use href="#mo" x="641.4" y="364.0"/><use href="#mo" x="641.7" y="364.0"/><use href="#mo" x="642.0" y="364.0"/><use href="#mo" x="642.3" y="364.0"/><use href="#mo" x="642.6" y="364.0"/><use href="#mo" x="643.0" y="363.9"/><use href="#mo" x="643.3" y="363.9"/><use href="#mo" x="643.6" y="363.9"/><use href="#mo" x="643.9" y="363.9"/><use href="#mo" x="644.2" y="363.9"/><use href="#mo" x="644.5" y="363.9"/><use href="#mo" x="644.8" y="363.9"/><use href="#mo" x="645.1" y="363.8"/><use href="#mo" x="645.4" y="363.8"/><use href="#mo" x="645.7" y="363.8"/><use href="#mo" x="646.0" y="363.8"/><use href="#mo" x="646.3" y="363.8"/><use href="#mo" x="646.6" y="363.8"/><use href="#mo" x="646.9" y="363.8"/><use href="#mo" x="647.2" y="363.8"/><use href="#mo" x="647.5" y="363.7"/><use href="#mo" x="647.8" y="363.7"/><use href="#mo" x="648.1" y="363.7"/><use href="#mo" x="648.4" y="363.7"/><use href="#mo" x="648.7" y="363.7"/><use href="#mo" x="649.0" y="363.7"/><use href="#mo" x="649.2" y="363.7"/><use href="#mo" x="649.5" y="363.7"/><use href="#mo" x="649.8" y="363.6"/><use href="#mo" x="650.1" y="363.6"/><use href="#mo" x="650.4" y="363.6"/><use href="#mo" x="650.7" y="363.6"/><use href="#mo" x="650.9" y="363.6"/><use href="#mo" x="651.2" y="363.6"/><use href="#mo" x="651.5" y="363.6"/><use href="#mo" x="651.8" y="363.6"/><use href="#mo" x="652.0" y="363.6"/><use href="#mo" x="652.3" y="363.5"/><use href="#mo" x="652.6" y="363.5"/><use href="#mo" x="652.9" y="363.5"/><use href="#mo" x="653.1" y="363.5"/><use href="#mo" x="653.4" y="363.5"/><use href="#mo" x="653.7" y="363.5"/></g>
</g>
<g filter="url(#soft)">
<polyline points="146.5,156.5 226.0,155.8" fill="none" stroke="#0000ff" stroke-width="3.4" stroke-linejoin="round" stroke-linecap="round" />
<polyline points="238.5,155.7 263.3,155.5" fill="none" stroke="#0000ff" stroke-width="3.4" stroke-linejoin="round" stroke-linecap="round" />
<polyline points="275.5,155.4 287.0,155.3" fill="none" stroke="#0000ff" stroke-width="3.4" stroke-linejoin="round" stroke-linecap="round" />
<polyline points="299.5,155.2 305.0,155.0" fill="none" stroke="#0000ff" stroke-width="3.4" stroke-linejoin="round" stroke-linecap="round" />
</g>
<g filter="url(#mark)">
<g><use href="#mq" x="140.4" y="156.5"/><use href="#mq" x="293.4" y="155.3"/><use href="#mq" x="336.1" y="154.7"/><use href="#mq" x="361.9" y="154.2"/><use href="#mq" x="380.4" y="153.6"/><use href="#mq" x="394.9" y="153.1"/><use href="#mq" x="406.8" y="152.6"/><use href="#mq" x="416.9" y="152.1"/><use href="#mq" x="425.7" y="151.7"/><use href="#mq" x="433.4" y="151.2"/><use href="#mq" x="440.3" y="150.8"/><use href="#mq" x="446.6" y="150.4"/><use href="#mq" x="452.4" y="150.0"/><use href="#mq" x="457.6" y="149.7"/><use href="#mq" x="462.5" y="149.3"/><use href="#mq" x="467.1" y="149.0"/><use href="#mq" x="471.4" y="148.7"/><use href="#mq" x="475.4" y="148.3"/><use href="#mq" x="479.1" y="148.0"/><use href="#mq" x="482.7" y="147.8"/><use href="#mq" x="486.1" y="147.5"/><use href="#mq" x="489.3" y="147.2"/><use href="#mq" x="492.4" y="147.0"/><use href="#mq" x="495.4" y="146.7"/><use href="#mq" x="498.2" y="146.5"/><use href="#mq" x="500.9" y="146.2"/><use href="#mq" x="503.5" y="146.0"/><use href="#mq" x="506.0" y="145.8"/><use href="#mq" x="508.4" y="145.6"/><use href="#mq" x="510.7" y="145.4"/><use href="#mq" x="513.0" y="145.2"/><use href="#mq" x="515.2" y="145.0"/><use href="#mq" x="517.3" y="144.8"/><use href="#mq" x="519.3" y="144.6"/><use href="#mq" x="521.3" y="144.4"/><use href="#mq" x="523.2" y="144.2"/><use href="#mq" x="525.1" y="144.1"/><use href="#mq" x="526.9" y="143.9"/><use href="#mq" x="528.7" y="143.7"/><use href="#mq" x="530.4" y="143.6"/><use href="#mq" x="532.1" y="143.4"/><use href="#mq" x="533.7" y="143.3"/><use href="#mq" x="535.3" y="143.1"/><use href="#mq" x="536.9" y="143.0"/><use href="#mq" x="538.4" y="142.9"/><use href="#mq" x="539.9" y="142.7"/><use href="#mq" x="541.4" y="142.6"/><use href="#mq" x="542.8" y="142.4"/><use href="#mq" x="544.2" y="142.3"/><use href="#mq" x="545.6" y="142.2"/><use href="#mq" x="546.9" y="142.1"/><use href="#mq" x="548.2" y="141.9"/><use href="#mq" x="549.5" y="141.8"/><use href="#mq" x="550.8" y="141.7"/><use href="#mq" x="552.0" y="141.6"/><use href="#mq" x="553.2" y="141.5"/><use href="#mq" x="554.4" y="141.4"/><use href="#mq" x="555.6" y="141.3"/><use href="#mq" x="556.8" y="141.2"/><use href="#mq" x="557.9" y="141.0"/><use href="#mq" x="559.0" y="140.9"/><use href="#mq" x="560.1" y="140.8"/><use href="#mq" x="561.2" y="140.7"/><use href="#mq" x="562.3" y="140.6"/><use href="#mq" x="563.3" y="140.5"/><use href="#mq" x="564.3" y="140.5"/><use href="#mq" x="565.3" y="140.4"/><use href="#mq" x="566.3" y="140.3"/><use href="#mq" x="567.3" y="140.2"/><use href="#mq" x="568.3" y="140.1"/><use href="#mq" x="569.3" y="140.0"/><use href="#mq" x="570.2" y="139.9"/><use href="#mq" x="571.1" y="139.8"/><use href="#mq" x="572.0" y="139.7"/><use href="#mq" x="573.0" y="139.7"/><use href="#mq" x="573.8" y="139.6"/><use href="#mq" x="574.7" y="139.5"/><use href="#mq" x="575.6" y="139.4"/><use href="#mq" x="576.5" y="139.3"/><use href="#mq" x="577.3" y="139.3"/><use href="#mq" x="578.1" y="139.2"/><use href="#mq" x="579.0" y="139.1"/><use href="#mq" x="579.8" y="139.0"/><use href="#mq" x="580.6" y="138.9"/><use href="#mq" x="581.4" y="138.9"/><use href="#mq" x="582.2" y="138.8"/><use href="#mq" x="582.9" y="138.7"/><use href="#mq" x="583.7" y="138.6"/><use href="#mq" x="584.5" y="138.6"/><use href="#mq" x="585.2" y="138.5"/><use href="#mq" x="586.0" y="138.4"/><use href="#mq" x="586.7" y="138.4"/><use href="#mq" x="587.4" y="138.3"/><use href="#mq" x="588.1" y="138.2"/><use href="#mq" x="588.9" y="138.1"/><use href="#mq" x="589.6" y="138.1"/><use href="#mq" x="590.3" y="138.0"/><use href="#mq" x="590.9" y="137.9"/><use href="#mq" x="591.6" y="137.9"/><use href="#mq" x="592.3" y="137.8"/><use href="#mq" x="593.0" y="137.7"/><use href="#mq" x="593.6" y="137.7"/><use href="#mq" x="594.3" y="137.6"/><use href="#mq" x="594.9" y="137.5"/><use href="#mq" x="595.6" y="137.5"/><use href="#mq" x="596.2" y="137.4"/><use href="#mq" x="596.8" y="137.3"/><use href="#mq" x="597.5" y="137.3"/><use href="#mq" x="598.1" y="137.2"/><use href="#mq" x="598.7" y="137.2"/><use href="#mq" x="599.3" y="137.1"/><use href="#mq" x="599.9" y="137.0"/><use href="#mq" x="600.5" y="137.0"/><use href="#mq" x="601.1" y="136.9"/><use href="#mq" x="601.7" y="136.8"/><use href="#mq" x="602.3" y="136.8"/><use href="#mq" x="602.8" y="136.7"/><use href="#mq" x="603.4" y="136.7"/><use href="#mq" x="604.0" y="136.6"/><use href="#mq" x="604.5" y="136.5"/><use href="#mq" x="605.1" y="136.5"/><use href="#mq" x="605.7" y="136.4"/><use href="#mq" x="606.2" y="136.4"/><use href="#mq" x="606.7" y="136.3"/><use href="#mq" x="607.3" y="136.2"/><use href="#mq" x="607.8" y="136.2"/><use href="#mq" x="608.3" y="136.1"/><use href="#mq" x="608.9" y="136.1"/><use href="#mq" x="609.4" y="136.0"/><use href="#mq" x="609.9" y="135.9"/><use href="#mq" x="610.4" y="135.9"/><use href="#mq" x="610.9" y="135.8"/><use href="#mq" x="611.4" y="135.8"/><use href="#mq" x="611.9" y="135.7"/><use href="#mq" x="612.4" y="135.7"/><use href="#mq" x="612.9" y="135.6"/><use href="#mq" x="613.4" y="135.6"/><use href="#mq" x="613.9" y="135.5"/><use href="#mq" x="614.4" y="135.4"/><use href="#mq" x="614.9" y="135.4"/><use href="#mq" x="615.4" y="135.3"/><use href="#mq" x="615.8" y="135.3"/><use href="#mq" x="616.3" y="135.2"/><use href="#mq" x="616.8" y="135.2"/><use href="#mq" x="617.2" y="135.1"/><use href="#mq" x="617.7" y="135.1"/><use href="#mq" x="618.1" y="135.0"/></g>
</g>
<g filter="url(#soft)">
<line x1="349.0" y1="44.0" x2="410.0" y2="44.0" stroke="#ff0000" stroke-width="3" stroke-linecap="round"/>
<path d="M373.1,41.8H385.9L379.5,54.4Z" fill="#fff" stroke="#ff0000" stroke-width="1.3"/>
<text x="425.6" y="50.7" font-size="19.45" text-anchor="start" font-weight="normal" fill="#000" >Luminance L<tspan font-size="13" dy="6.5">0</tspan><tspan dy="-6.5">=1</tspan><tspan fill="#efe9e2">,</tspan>000 cd m<tspan font-size="12.5" dy="-8">-2</tspan></text>
<line x1="349.0" y1="78.5" x2="410.0" y2="78.5" stroke="#00ff00" stroke-width="3" stroke-linecap="round"/>
<ellipse cx="378.9" cy="78.5" rx="3.9" ry="5.6" fill="#00ff00"/>
<text x="425.6" y="84.3" font-size="19.45" text-anchor="start" font-weight="normal" fill="#000" >Luminance L<tspan font-size="13" dy="6.5">0</tspan><tspan dy="-6.5">=5</tspan><tspan fill="#efe9e2">,</tspan>000 cd m<tspan font-size="12.5" dy="-8">-2</tspan></text>
<rect x="131.9" y="278" width="285" height="62" fill="#fff"/>
<line x1="146.0" y1="291.5" x2="191.0" y2="291.5" stroke="#808000" stroke-width="3" stroke-linecap="round"/>
<use href="#mo" x="168.5" y="291.5"/>
<text x="198.0" y="297.4" font-size="19.45" text-anchor="start" font-weight="normal" fill="#000" >Voltage L<tspan font-size="13" dy="6.5">0</tspan><tspan dy="-6.5">=1</tspan><tspan fill="#efe9e2">,</tspan>000 cd m<tspan font-size="12.5" dy="-8">-2</tspan></text>
<line x1="146.0" y1="321.0" x2="191.0" y2="321.0" stroke="#0000ff" stroke-width="3" stroke-linecap="round"/>
<use href="#mq" x="168.5" y="321.0"/>
<text x="198.0" y="327.6" font-size="19.45" text-anchor="start" font-weight="normal" fill="#000" >Voltage L<tspan font-size="13" dy="6.5">0</tspan><tspan dy="-6.5">=5</tspan><tspan fill="#efe9e2">,</tspan>000 cd m<tspan font-size="12.5" dy="-8">-2</tspan></text>
<rect x="883.0" y="11.6" width="571.0" height="425.2" fill="none" stroke="#1c1c1c" stroke-width="1.6"/>
<line x1="883.0" y1="436.8" x2="892.5" y2="436.8" stroke="#1c1c1c" stroke-width="1.6" />
<line x1="1454.0" y1="436.8" x2="1444.5" y2="436.8" stroke="#1c1c1c" stroke-width="1.6" />
<line x1="883.0" y1="398.2" x2="888.5" y2="398.2" stroke="#1c1c1c" stroke-width="1.6" />
<line x1="1454.0" y1="398.2" x2="1448.5" y2="398.2" stroke="#1c1c1c" stroke-width="1.6" />
<line x1="883.0" y1="359.6" x2="892.5" y2="359.6" stroke="#1c1c1c" stroke-width="1.6" />
<line x1="1454.0" y1="359.6" x2="1444.5" y2="359.6" stroke="#1c1c1c" stroke-width="1.6" />
<line x1="883.0" y1="321.0" x2="888.5" y2="321.0" stroke="#1c1c1c" stroke-width="1.6" />
<line x1="1454.0" y1="321.0" x2="1448.5" y2="321.0" stroke="#1c1c1c" stroke-width="1.6" />
<line x1="883.0" y1="282.4" x2="892.5" y2="282.4" stroke="#1c1c1c" stroke-width="1.6" />
<line x1="1454.0" y1="282.4" x2="1444.5" y2="282.4" stroke="#1c1c1c" stroke-width="1.6" />
<line x1="883.0" y1="243.8" x2="888.5" y2="243.8" stroke="#1c1c1c" stroke-width="1.6" />
<line x1="1454.0" y1="243.8" x2="1448.5" y2="243.8" stroke="#1c1c1c" stroke-width="1.6" />
<line x1="883.0" y1="205.2" x2="892.5" y2="205.2" stroke="#1c1c1c" stroke-width="1.6" />
<line x1="1454.0" y1="205.2" x2="1444.5" y2="205.2" stroke="#1c1c1c" stroke-width="1.6" />
<line x1="883.0" y1="166.6" x2="888.5" y2="166.6" stroke="#1c1c1c" stroke-width="1.6" />
<line x1="1454.0" y1="166.6" x2="1448.5" y2="166.6" stroke="#1c1c1c" stroke-width="1.6" />
<line x1="883.0" y1="128.0" x2="892.5" y2="128.0" stroke="#1c1c1c" stroke-width="1.6" />
<line x1="1454.0" y1="128.0" x2="1444.5" y2="128.0" stroke="#1c1c1c" stroke-width="1.6" />
<line x1="883.0" y1="89.4" x2="888.5" y2="89.4" stroke="#1c1c1c" stroke-width="1.6" />
<line x1="1454.0" y1="89.4" x2="1448.5" y2="89.4" stroke="#1c1c1c" stroke-width="1.6" />
<line x1="883.0" y1="50.8" x2="892.5" y2="50.8" stroke="#1c1c1c" stroke-width="1.6" />
<line x1="1454.0" y1="50.8" x2="1444.5" y2="50.8" stroke="#1c1c1c" stroke-width="1.6" />
<line x1="946.4" y1="436.8" x2="946.4" y2="431.3" stroke="#1c1c1c" stroke-width="1.6" />
<line x1="946.4" y1="11.6" x2="946.4" y2="17.1" stroke="#1c1c1c" stroke-width="1.6" />
<line x1="1009.8" y1="436.8" x2="1009.8" y2="427.3" stroke="#1c1c1c" stroke-width="1.6" />
<line x1="1009.8" y1="11.6" x2="1009.8" y2="21.1" stroke="#1c1c1c" stroke-width="1.6" />
<line x1="1073.2" y1="436.8" x2="1073.2" y2="431.3" stroke="#1c1c1c" stroke-width="1.6" />
<line x1="1073.2" y1="11.6" x2="1073.2" y2="17.1" stroke="#1c1c1c" stroke-width="1.6" />
<line x1="1136.6" y1="436.8" x2="1136.6" y2="427.3" stroke="#1c1c1c" stroke-width="1.6" />
<line x1="1136.6" y1="11.6" x2="1136.6" y2="21.1" stroke="#1c1c1c" stroke-width="1.6" />
<line x1="1200.0" y1="436.8" x2="1200.0" y2="431.3" stroke="#1c1c1c" stroke-width="1.6" />
<line x1="1200.0" y1="11.6" x2="1200.0" y2="17.1" stroke="#1c1c1c" stroke-width="1.6" />
<line x1="1263.4" y1="436.8" x2="1263.4" y2="427.3" stroke="#1c1c1c" stroke-width="1.6" />
<line x1="1263.4" y1="11.6" x2="1263.4" y2="21.1" stroke="#1c1c1c" stroke-width="1.6" />
<line x1="1326.8" y1="436.8" x2="1326.8" y2="431.3" stroke="#1c1c1c" stroke-width="1.6" />
<line x1="1326.8" y1="11.6" x2="1326.8" y2="17.1" stroke="#1c1c1c" stroke-width="1.6" />
<line x1="1390.2" y1="436.8" x2="1390.2" y2="427.3" stroke="#1c1c1c" stroke-width="1.6" />
<line x1="1390.2" y1="11.6" x2="1390.2" y2="21.1" stroke="#1c1c1c" stroke-width="1.6" />
<text x="883.0" y="477.0" font-size="39" text-anchor="middle" font-weight="normal" fill="#000" >300</text>
<text x="1009.8" y="477.0" font-size="39" text-anchor="middle" font-weight="normal" fill="#000" >400</text>
<text x="1136.6" y="477.0" font-size="39" text-anchor="middle" font-weight="normal" fill="#000" >500</text>
<text x="1263.4" y="477.0" font-size="39" text-anchor="middle" font-weight="normal" fill="#000" >600</text>
<text x="1390.2" y="477.0" font-size="39" text-anchor="middle" font-weight="normal" fill="#000" >700</text>
<text x="1169.3" y="522.3" font-size="40.2" text-anchor="middle" font-weight="normal" fill="#000" >Wavelength (nm)</text>
<text x="857.0" y="217.0" font-size="40.3" text-anchor="middle" font-weight="normal" fill="#000" transform="rotate(-90 857.0 217.0)" >EL Intensity (a.u.)</text>
<text x="900.0" y="46.5" font-size="38" text-anchor="start" font-weight="bold" fill="#000" textLength="21" lengthAdjust="spacingAndGlyphs">b</text>
<defs>
<path id="bd" d="M0,-7L6.2,0L0,7L-6.2,0Z" fill="#fff" stroke="#00f000" stroke-opacity="0.5" stroke-width="1.0"/>
<rect id="bq" x="-4.3" y="-4.3" width="8.6" height="8.6" fill="#fff" stroke="#000" stroke-width="1.05"/>
</defs>
<clipPath id="clb"><rect x="883.0" y="11.6" width="571.0" height="426.0"/></clipPath>
</g>
<g filter="url(#mark)">
<g clip-path="url(#clb)"><use href="#bd" x="946.4" y="436.8"/><use href="#bd" x="947.1" y="436.8"/><use href="#bd" x="947.9" y="436.8"/><use href="#bd" x="948.6" y="436.8"/><use href="#bd" x="949.3" y="436.8"/><use href="#bd" x="950.1" y="436.8"/><use href="#bd" x="950.8" y="436.8"/><use href="#bd" x="951.5" y="436.8"/><use href="#bd" x="952.3" y="436.8"/><use href="#bd" x="953.0" y="436.8"/><use href="#bd" x="953.8" y="436.8"/><use href="#bd" x="954.5" y="436.8"/><use href="#bd" x="955.2" y="436.8"/><use href="#bd" x="956.0" y="436.8"/><use href="#bd" x="956.7" y="436.8"/><use href="#bd" x="957.4" y="436.8"/><use href="#bd" x="958.2" y="436.8"/><use href="#bd" x="958.9" y="436.8"/><use href="#bd" x="959.6" y="436.8"/><use href="#bd" x="960.4" y="436.8"/><use href="#bd" x="961.1" y="436.8"/><use href="#bd" x="961.8" y="436.8"/><use href="#bd" x="962.6" y="436.8"/><use href="#bd" x="963.3" y="436.8"/><use href="#bd" x="964.1" y="436.8"/><use href="#bd" x="964.8" y="436.8"/><use href="#bd" x="965.5" y="436.8"/><use href="#bd" x="966.3" y="436.8"/><use href="#bd" x="967.0" y="436.8"/><use href="#bd" x="967.7" y="436.7"/><use href="#bd" x="968.5" y="436.7"/><use href="#bd" x="969.2" y="436.7"/><use href="#bd" x="969.9" y="436.7"/><use href="#bd" x="970.7" y="436.7"/><use href="#bd" x="971.4" y="436.7"/><use href="#bd" x="972.1" y="436.7"/><use href="#bd" x="972.9" y="436.7"/><use href="#bd" x="973.6" y="436.7"/><use href="#bd" x="974.3" y="436.7"/><use href="#bd" x="975.1" y="436.7"/><use href="#bd" x="975.8" y="436.7"/><use href="#bd" x="976.6" y="436.7"/><use href="#bd" x="977.3" y="436.7"/><use href="#bd" x="978.0" y="436.7"/><use href="#bd" x="978.8" y="436.7"/><use href="#bd" x="979.5" y="436.7"/><use href="#bd" x="980.2" y="436.7"/><use href="#bd" x="981.0" y="436.6"/><use href="#bd" x="981.7" y="436.6"/><use href="#bd" x="982.4" y="436.6"/><use href="#bd" x="983.2" y="436.6"/><use href="#bd" x="983.9" y="436.6"/><use href="#bd" x="984.6" y="436.6"/><use href="#bd" x="985.4" y="436.6"/><use href="#bd" x="986.1" y="436.6"/><use href="#bd" x="986.8" y="436.5"/><use href="#bd" x="987.6" y="436.5"/><use href="#bd" x="988.3" y="436.5"/><use href="#bd" x="989.1" y="436.4"/><use href="#bd" x="989.8" y="436.3"/><use href="#bd" x="990.5" y="436.3"/><use href="#bd" x="991.3" y="436.2"/><use href="#bd" x="992.0" y="436.1"/><use href="#bd" x="992.7" y="436.0"/><use href="#bd" x="993.5" y="435.9"/><use href="#bd" x="994.2" y="435.8"/><use href="#bd" x="994.9" y="435.7"/><use href="#bd" x="995.7" y="435.6"/><use href="#bd" x="996.4" y="435.4"/><use href="#bd" x="997.1" y="435.2"/><use href="#bd" x="997.9" y="435.0"/><use href="#bd" x="998.6" y="434.6"/><use href="#bd" x="999.4" y="434.2"/><use href="#bd" x="1000.1" y="433.8"/><use href="#bd" x="1000.8" y="433.3"/><use href="#bd" x="1001.6" y="432.8"/><use href="#bd" x="1002.3" y="432.2"/><use href="#bd" x="1003.0" y="431.6"/><use href="#bd" x="1003.8" y="431.0"/><use href="#bd" x="1004.5" y="430.4"/><use href="#bd" x="1005.2" y="429.7"/><use href="#bd" x="1006.0" y="429.0"/><use href="#bd" x="1006.7" y="428.3"/><use href="#bd" x="1007.4" y="427.5"/><use href="#bd" x="1008.2" y="426.8"/><use href="#bd" x="1008.9" y="426.0"/><use href="#bd" x="1009.6" y="425.2"/><use href="#bd" x="1010.4" y="424.2"/><use href="#bd" x="1011.1" y="423.2"/><use href="#bd" x="1011.9" y="422.1"/><use href="#bd" x="1012.6" y="421.0"/><use href="#bd" x="1013.3" y="419.8"/><use href="#bd" x="1014.1" y="418.5"/><use href="#bd" x="1014.8" y="417.2"/><use href="#bd" x="1015.5" y="415.9"/><use href="#bd" x="1016.3" y="414.5"/><use href="#bd" x="1017.0" y="413.0"/><use href="#bd" x="1017.7" y="411.5"/><use href="#bd" x="1018.5" y="409.8"/><use href="#bd" x="1019.2" y="408.1"/><use href="#bd" x="1019.9" y="406.3"/><use href="#bd" x="1020.7" y="404.4"/><use href="#bd" x="1021.4" y="402.4"/><use href="#bd" x="1022.2" y="400.4"/><use href="#bd" x="1022.9" y="398.3"/><use href="#bd" x="1023.6" y="396.1"/><use href="#bd" x="1024.4" y="393.9"/><use href="#bd" x="1025.1" y="391.7"/><use href="#bd" x="1025.8" y="389.3"/><use href="#bd" x="1026.6" y="386.9"/><use href="#bd" x="1027.3" y="384.4"/><use href="#bd" x="1028.0" y="381.7"/><use href="#bd" x="1028.8" y="379.0"/><use href="#bd" x="1029.5" y="376.1"/><use href="#bd" x="1030.2" y="373.0"/><use href="#bd" x="1031.0" y="369.8"/><use href="#bd" x="1031.7" y="366.4"/><use href="#bd" x="1032.4" y="362.7"/><use href="#bd" x="1033.2" y="358.5"/><use href="#bd" x="1033.9" y="353.8"/><use href="#bd" x="1034.7" y="348.8"/><use href="#bd" x="1035.4" y="343.6"/><use href="#bd" x="1036.1" y="338.2"/><use href="#bd" x="1036.9" y="332.9"/><use href="#bd" x="1037.6" y="327.7"/><use href="#bd" x="1038.3" y="322.8"/><use href="#bd" x="1039.1" y="318.0"/><use href="#bd" x="1039.8" y="313.1"/><use href="#bd" x="1040.5" y="308.3"/><use href="#bd" x="1041.3" y="303.5"/><use href="#bd" x="1042.0" y="298.6"/><use href="#bd" x="1042.7" y="293.7"/><use href="#bd" x="1043.5" y="288.7"/><use href="#bd" x="1044.2" y="283.5"/><use href="#bd" x="1044.9" y="278.3"/><use href="#bd" x="1045.7" y="273.2"/><use href="#bd" x="1046.4" y="268.0"/><use href="#bd" x="1047.2" y="262.7"/><use href="#bd" x="1047.9" y="257.2"/><use href="#bd" x="1048.6" y="251.5"/><use href="#bd" x="1049.4" y="245.5"/><use href="#bd" x="1050.1" y="239.1"/><use href="#bd" x="1050.8" y="232.0"/><use href="#bd" x="1051.6" y="224.4"/><use href="#bd" x="1052.3" y="216.9"/><use href="#bd" x="1053.0" y="209.2"/><use href="#bd" x="1053.8" y="201.4"/><use href="#bd" x="1054.5" y="193.8"/><use href="#bd" x="1055.2" y="186.6"/><use href="#bd" x="1056.0" y="180.2"/><use href="#bd" x="1056.7" y="174.4"/><use href="#bd" x="1057.5" y="169.1"/><use href="#bd" x="1058.2" y="164.1"/><use href="#bd" x="1058.9" y="159.4"/><use href="#bd" x="1059.7" y="154.8"/><use href="#bd" x="1060.4" y="150.3"/><use href="#bd" x="1061.1" y="145.7"/><use href="#bd" x="1061.9" y="140.9"/><use href="#bd" x="1062.6" y="135.9"/><use href="#bd" x="1063.3" y="130.8"/><use href="#bd" x="1064.1" y="125.5"/><use href="#bd" x="1064.8" y="120.3"/><use href="#bd" x="1065.5" y="115.2"/><use href="#bd" x="1066.3" y="110.2"/><use href="#bd" x="1067.0" y="105.6"/><use href="#bd" x="1067.7" y="101.4"/><use href="#bd" x="1068.5" y="97.5"/><use href="#bd" x="1069.2" y="93.7"/><use href="#bd" x="1070.0" y="90.1"/><use href="#bd" x="1070.7" y="86.6"/><use href="#bd" x="1071.4" y="83.2"/><use href="#bd" x="1072.2" y="80.0"/><use href="#bd" x="1072.9" y="76.9"/><use href="#bd" x="1073.6" y="74.0"/><use href="#bd" x="1074.4" y="71.3"/><use href="#bd" x="1075.1" y="68.8"/><use href="#bd" x="1075.8" y="66.5"/><use href="#bd" x="1076.6" y="64.3"/><use href="#bd" x="1077.3" y="62.2"/><use href="#bd" x="1078.0" y="60.2"/><use href="#bd" x="1078.8" y="58.4"/><use href="#bd" x="1079.5" y="56.8"/><use href="#bd" x="1080.3" y="55.5"/><use href="#bd" x="1081.0" y="54.5"/><use href="#bd" x="1081.7" y="53.8"/><use href="#bd" x="1082.5" y="53.1"/><use href="#bd" x="1083.2" y="52.5"/><use href="#bd" x="1083.9" y="52.0"/><use href="#bd" x="1084.7" y="51.6"/><use href="#bd" x="1085.4" y="51.5"/><use href="#bd" x="1086.1" y="51.6"/><use href="#bd" x="1086.9" y="51.9"/><use href="#bd" x="1087.6" y="52.4"/><use href="#bd" x="1088.3" y="52.9"/><use href="#bd" x="1089.1" y="53.6"/><use href="#bd" x="1089.8" y="54.3"/><use href="#bd" x="1090.5" y="55.1"/><use href="#bd" x="1091.3" y="56.1"/><use href="#bd" x="1092.0" y="57.2"/><use href="#bd" x="1092.8" y="58.5"/><use href="#bd" x="1093.5" y="60.0"/><use href="#bd" x="1094.2" y="61.5"/><use href="#bd" x="1095.0" y="63.1"/><use href="#bd" x="1095.7" y="64.9"/><use href="#bd" x="1096.4" y="66.9"/><use href="#bd" x="1097.2" y="69.0"/><use href="#bd" x="1097.9" y="71.3"/><use href="#bd" x="1098.6" y="73.6"/><use href="#bd" x="1099.4" y="76.0"/><use href="#bd" x="1100.1" y="78.6"/><use href="#bd" x="1100.8" y="81.1"/><use href="#bd" x="1101.6" y="83.8"/><use href="#bd" x="1102.3" y="86.5"/><use href="#bd" x="1103.0" y="89.2"/><use href="#bd" x="1103.8" y="91.9"/><use href="#bd" x="1104.5" y="94.6"/><use href="#bd" x="1105.3" y="97.3"/><use href="#bd" x="1106.0" y="100.0"/><use href="#bd" x="1106.7" y="102.6"/><use href="#bd" x="1107.5" y="105.4"/><use href="#bd" x="1108.2" y="108.2"/><use href="#bd" x="1108.9" y="111.0"/><use href="#bd" x="1109.7" y="113.9"/><use href="#bd" x="1110.4" y="116.8"/><use href="#bd" x="1111.1" y="119.8"/><use href="#bd" x="1111.9" y="122.8"/><use href="#bd" x="1112.6" y="125.8"/><use href="#bd" x="1113.3" y="128.9"/><use href="#bd" x="1114.1" y="131.9"/><use href="#bd" x="1114.8" y="135.0"/><use href="#bd" x="1115.6" y="138.1"/><use href="#bd" x="1116.3" y="141.2"/><use href="#bd" x="1117.0" y="144.3"/><use href="#bd" x="1117.8" y="147.5"/><use href="#bd" x="1118.5" y="150.7"/><use href="#bd" x="1119.2" y="153.9"/><use href="#bd" x="1120.0" y="157.1"/><use href="#bd" x="1120.7" y="160.4"/><use href="#bd" x="1121.4" y="163.7"/><use href="#bd" x="1122.2" y="167.0"/><use href="#bd" x="1122.9" y="170.3"/><use href="#bd" x="1123.6" y="173.7"/><use href="#bd" x="1124.4" y="177.1"/><use href="#bd" x="1125.1" y="180.5"/><use href="#bd" x="1125.8" y="184.0"/><use href="#bd" x="1126.6" y="187.7"/><use href="#bd" x="1127.3" y="191.4"/><use href="#bd" x="1128.1" y="195.1"/><use href="#bd" x="1128.8" y="198.9"/><use href="#bd" x="1129.5" y="202.7"/><use href="#bd" x="1130.3" y="206.4"/><use href="#bd" x="1131.0" y="210.0"/><use href="#bd" x="1131.7" y="213.4"/><use href="#bd" x="1132.5" y="216.7"/><use href="#bd" x="1133.2" y="219.8"/><use href="#bd" x="1133.9" y="222.8"/><use href="#bd" x="1134.7" y="225.6"/><use href="#bd" x="1135.4" y="228.3"/><use href="#bd" x="1136.1" y="230.9"/><use href="#bd" x="1136.9" y="233.5"/><use href="#bd" x="1137.6" y="236.1"/><use href="#bd" x="1138.3" y="238.7"/><use href="#bd" x="1139.1" y="241.3"/><use href="#bd" x="1139.8" y="243.9"/><use href="#bd" x="1140.6" y="246.5"/><use href="#bd" x="1141.3" y="249.2"/><use href="#bd" x="1142.0" y="251.7"/><use href="#bd" x="1142.8" y="254.3"/><use href="#bd" x="1143.5" y="256.9"/><use href="#bd" x="1144.2" y="259.4"/><use href="#bd" x="1145.0" y="261.9"/><use href="#bd" x="1145.7" y="264.4"/><use href="#bd" x="1146.4" y="266.8"/><use href="#bd" x="1147.2" y="269.2"/><use href="#bd" x="1147.9" y="271.5"/><use href="#bd" x="1148.6" y="273.9"/><use href="#bd" x="1149.4" y="276.2"/><use href="#bd" x="1150.1" y="278.6"/><use href="#bd" x="1150.9" y="281.1"/><use href="#bd" x="1151.6" y="283.6"/><use href="#bd" x="1152.3" y="286.1"/><use href="#bd" x="1153.1" y="288.8"/><use href="#bd" x="1153.8" y="291.6"/><use href="#bd" x="1154.5" y="294.4"/><use href="#bd" x="1155.3" y="297.3"/><use href="#bd" x="1156.0" y="300.2"/><use href="#bd" x="1156.7" y="303.0"/><use href="#bd" x="1157.5" y="305.9"/><use href="#bd" x="1158.2" y="308.6"/><use href="#bd" x="1158.9" y="311.3"/><use href="#bd" x="1159.7" y="313.9"/><use href="#bd" x="1160.4" y="316.4"/><use href="#bd" x="1161.1" y="318.8"/><use href="#bd" x="1161.9" y="321.3"/><use href="#bd" x="1162.6" y="323.6"/><use href="#bd" x="1163.4" y="326.0"/><use href="#bd" x="1164.1" y="328.3"/><use href="#bd" x="1164.8" y="330.6"/><use href="#bd" x="1165.6" y="332.9"/><use href="#bd" x="1166.3" y="335.0"/><use href="#bd" x="1167.0" y="337.2"/><use href="#bd" x="1167.8" y="339.2"/><use href="#bd" x="1168.5" y="341.2"/><use href="#bd" x="1169.2" y="343.1"/><use href="#bd" x="1170.0" y="344.9"/><use href="#bd" x="1170.7" y="346.7"/><use href="#bd" x="1171.4" y="348.4"/><use href="#bd" x="1172.2" y="350.1"/><use href="#bd" x="1172.9" y="351.7"/><use href="#bd" x="1173.7" y="353.3"/><use href="#bd" x="1174.4" y="354.8"/><use href="#bd" x="1175.1" y="356.4"/><use href="#bd" x="1175.9" y="357.8"/><use href="#bd" x="1176.6" y="359.3"/><use href="#bd" x="1177.3" y="360.7"/><use href="#bd" x="1178.1" y="362.1"/><use href="#bd" x="1178.8" y="363.4"/><use href="#bd" x="1179.5" y="364.7"/><use href="#bd" x="1180.3" y="366.0"/><use href="#bd" x="1181.0" y="367.3"/><use href="#bd" x="1181.7" y="368.6"/><use href="#bd" x="1182.5" y="369.8"/><use href="#bd" x="1183.2" y="371.0"/><use href="#bd" x="1183.9" y="372.2"/><use href="#bd" x="1184.7" y="373.4"/><use href="#bd" x="1185.4" y="374.6"/><use href="#bd" x="1186.2" y="375.7"/><use href="#bd" x="1186.9" y="376.8"/><use href="#bd" x="1187.6" y="378.0"/><use href="#bd" x="1188.4" y="379.1"/><use href="#bd" x="1189.1" y="380.1"/><use href="#bd" x="1189.8" y="381.2"/><use href="#bd" x="1190.6" y="382.2"/><use href="#bd" x="1191.3" y="383.2"/><use href="#bd" x="1192.0" y="384.2"/><use href="#bd" x="1192.8" y="385.1"/><use href="#bd" x="1193.5" y="386.1"/><use href="#bd" x="1194.2" y="387.0"/><use href="#bd" x="1195.0" y="387.8"/><use href="#bd" x="1195.7" y="388.7"/><use href="#bd" x="1196.4" y="389.5"/><use href="#bd" x="1197.2" y="390.3"/><use href="#bd" x="1197.9" y="391.1"/><use href="#bd" x="1198.7" y="391.8"/><use href="#bd" x="1199.4" y="392.6"/><use href="#bd" x="1200.1" y="393.4"/><use href="#bd" x="1200.9" y="394.1"/><use href="#bd" x="1201.6" y="394.8"/><use href="#bd" x="1202.3" y="395.5"/><use href="#bd" x="1203.1" y="396.2"/><use href="#bd" x="1203.8" y="396.9"/><use href="#bd" x="1204.5" y="397.5"/><use href="#bd" x="1205.3" y="398.2"/><use href="#bd" x="1206.0" y="398.8"/><use href="#bd" x="1206.7" y="399.5"/><use href="#bd" x="1207.5" y="400.1"/><use href="#bd" x="1208.2" y="400.7"/><use href="#bd" x="1209.0" y="401.3"/><use href="#bd" x="1209.7" y="401.8"/><use href="#bd" x="1210.4" y="402.4"/><use href="#bd" x="1211.2" y="403.0"/><use href="#bd" x="1211.9" y="403.5"/><use href="#bd" x="1212.6" y="404.0"/><use href="#bd" x="1213.4" y="404.6"/><use href="#bd" x="1214.1" y="405.1"/><use href="#bd" x="1214.8" y="405.6"/><use href="#bd" x="1215.6" y="406.1"/><use href="#bd" x="1216.3" y="406.5"/><use href="#bd" x="1217.0" y="407.0"/><use href="#bd" x="1217.8" y="407.5"/><use href="#bd" x="1218.5" y="407.9"/><use href="#bd" x="1219.2" y="408.4"/><use href="#bd" x="1220.0" y="408.8"/><use href="#bd" x="1220.7" y="409.3"/><use href="#bd" x="1221.5" y="409.7"/><use href="#bd" x="1222.2" y="410.1"/><use href="#bd" x="1222.9" y="410.5"/><use href="#bd" x="1223.7" y="410.9"/><use href="#bd" x="1224.4" y="411.3"/><use href="#bd" x="1225.1" y="411.7"/><use href="#bd" x="1225.9" y="412.1"/><use href="#bd" x="1226.6" y="412.4"/><use href="#bd" x="1227.3" y="412.8"/><use href="#bd" x="1228.1" y="413.1"/><use href="#bd" x="1228.8" y="413.5"/><use href="#bd" x="1229.5" y="413.8"/><use href="#bd" x="1230.3" y="414.1"/><use href="#bd" x="1231.0" y="414.4"/><use href="#bd" x="1231.8" y="414.7"/><use href="#bd" x="1232.5" y="415.1"/><use href="#bd" x="1233.2" y="415.4"/><use href="#bd" x="1234.0" y="415.6"/><use href="#bd" x="1234.7" y="415.9"/><use href="#bd" x="1235.4" y="416.2"/><use href="#bd" x="1236.2" y="416.5"/><use href="#bd" x="1236.9" y="416.8"/><use href="#bd" x="1237.6" y="417.1"/><use href="#bd" x="1238.4" y="417.3"/><use href="#bd" x="1239.1" y="417.6"/><use href="#bd" x="1239.8" y="417.8"/><use href="#bd" x="1240.6" y="418.1"/><use href="#bd" x="1241.3" y="418.4"/><use href="#bd" x="1242.0" y="418.6"/><use href="#bd" x="1242.8" y="418.8"/><use href="#bd" x="1243.5" y="419.1"/><use href="#bd" x="1244.3" y="419.3"/><use href="#bd" x="1245.0" y="419.5"/><use href="#bd" x="1245.7" y="419.8"/><use href="#bd" x="1246.5" y="420.0"/><use href="#bd" x="1247.2" y="420.2"/><use href="#bd" x="1247.9" y="420.4"/><use href="#bd" x="1248.7" y="420.6"/><use href="#bd" x="1249.4" y="420.8"/><use href="#bd" x="1250.1" y="421.0"/><use href="#bd" x="1250.9" y="421.2"/><use href="#bd" x="1251.6" y="421.4"/><use href="#bd" x="1252.3" y="421.6"/><use href="#bd" x="1253.1" y="421.8"/><use href="#bd" x="1253.8" y="422.0"/><use href="#bd" x="1254.5" y="422.2"/><use href="#bd" x="1255.3" y="422.4"/><use href="#bd" x="1256.0" y="422.5"/><use href="#bd" x="1256.8" y="422.7"/><use href="#bd" x="1257.5" y="422.9"/><use href="#bd" x="1258.2" y="423.1"/><use href="#bd" x="1259.0" y="423.2"/><use href="#bd" x="1259.7" y="423.4"/><use href="#bd" x="1260.4" y="423.5"/><use href="#bd" x="1261.2" y="423.7"/><use href="#bd" x="1261.9" y="423.9"/><use href="#bd" x="1262.6" y="424.0"/><use href="#bd" x="1263.4" y="424.2"/><use href="#bd" x="1264.1" y="424.3"/><use href="#bd" x="1264.8" y="424.5"/><use href="#bd" x="1265.6" y="424.6"/><use href="#bd" x="1266.3" y="424.8"/><use href="#bd" x="1267.1" y="424.9"/><use href="#bd" x="1267.8" y="425.1"/><use href="#bd" x="1268.5" y="425.2"/><use href="#bd" x="1269.3" y="425.4"/><use href="#bd" x="1270.0" y="425.5"/><use href="#bd" x="1270.7" y="425.6"/><use href="#bd" x="1271.5" y="425.8"/><use href="#bd" x="1272.2" y="425.9"/><use href="#bd" x="1272.9" y="426.1"/><use href="#bd" x="1273.7" y="426.2"/><use href="#bd" x="1274.4" y="426.3"/><use href="#bd" x="1275.1" y="426.5"/><use href="#bd" x="1275.9" y="426.6"/><use href="#bd" x="1276.6" y="426.8"/><use href="#bd" x="1277.3" y="426.9"/><use href="#bd" x="1278.1" y="427.0"/><use href="#bd" x="1278.8" y="427.2"/><use href="#bd" x="1279.6" y="427.3"/><use href="#bd" x="1280.3" y="427.4"/><use href="#bd" x="1281.0" y="427.6"/><use href="#bd" x="1281.8" y="427.7"/><use href="#bd" x="1282.5" y="427.8"/><use href="#bd" x="1283.2" y="427.9"/><use href="#bd" x="1284.0" y="428.1"/><use href="#bd" x="1284.7" y="428.2"/><use href="#bd" x="1285.4" y="428.3"/><use href="#bd" x="1286.2" y="428.4"/><use href="#bd" x="1286.9" y="428.6"/><use href="#bd" x="1287.6" y="428.7"/><use href="#bd" x="1288.4" y="428.8"/><use href="#bd" x="1289.1" y="428.9"/><use href="#bd" x="1289.9" y="429.0"/><use href="#bd" x="1290.6" y="429.2"/><use href="#bd" x="1291.3" y="429.3"/><use href="#bd" x="1292.1" y="429.4"/><use href="#bd" x="1292.8" y="429.5"/><use href="#bd" x="1293.5" y="429.6"/><use href="#bd" x="1294.3" y="429.7"/><use href="#bd" x="1295.0" y="429.8"/><use href="#bd" x="1295.7" y="429.9"/><use href="#bd" x="1296.5" y="430.0"/><use href="#bd" x="1297.2" y="430.1"/><use href="#bd" x="1297.9" y="430.2"/><use href="#bd" x="1298.7" y="430.3"/><use href="#bd" x="1299.4" y="430.4"/><use href="#bd" x="1300.1" y="430.5"/><use href="#bd" x="1300.9" y="430.6"/><use href="#bd" x="1301.6" y="430.7"/><use href="#bd" x="1302.4" y="430.8"/><use href="#bd" x="1303.1" y="430.9"/><use href="#bd" x="1303.8" y="431.0"/><use href="#bd" x="1304.6" y="431.1"/><use href="#bd" x="1305.3" y="431.2"/><use href="#bd" x="1306.0" y="431.2"/><use href="#bd" x="1306.8" y="431.3"/><use href="#bd" x="1307.5" y="431.4"/><use href="#bd" x="1308.2" y="431.5"/><use href="#bd" x="1309.0" y="431.6"/><use href="#bd" x="1309.7" y="431.7"/><use href="#bd" x="1310.4" y="431.8"/><use href="#bd" x="1311.2" y="431.9"/><use href="#bd" x="1311.9" y="431.9"/><use href="#bd" x="1312.6" y="432.0"/><use href="#bd" x="1313.4" y="432.1"/><use href="#bd" x="1314.1" y="432.2"/><use href="#bd" x="1314.9" y="432.3"/><use href="#bd" x="1315.6" y="432.4"/><use href="#bd" x="1316.3" y="432.4"/><use href="#bd" x="1317.1" y="432.5"/><use href="#bd" x="1317.8" y="432.6"/><use href="#bd" x="1318.5" y="432.7"/><use href="#bd" x="1319.3" y="432.8"/><use href="#bd" x="1320.0" y="432.8"/><use href="#bd" x="1320.7" y="432.9"/><use href="#bd" x="1321.5" y="433.0"/><use href="#bd" x="1322.2" y="433.1"/><use href="#bd" x="1322.9" y="433.1"/><use href="#bd" x="1323.7" y="433.2"/><use href="#bd" x="1324.4" y="433.3"/><use href="#bd" x="1325.2" y="433.3"/><use href="#bd" x="1325.9" y="433.4"/><use href="#bd" x="1326.6" y="433.5"/><use href="#bd" x="1327.4" y="433.5"/><use href="#bd" x="1328.1" y="433.6"/><use href="#bd" x="1328.8" y="433.7"/><use href="#bd" x="1329.6" y="433.7"/><use href="#bd" x="1330.3" y="433.8"/><use href="#bd" x="1331.0" y="433.9"/><use href="#bd" x="1331.8" y="433.9"/><use href="#bd" x="1332.5" y="434.0"/><use href="#bd" x="1333.2" y="434.0"/><use href="#bd" x="1334.0" y="434.1"/><use href="#bd" x="1334.7" y="434.1"/><use href="#bd" x="1335.4" y="434.2"/><use href="#bd" x="1336.2" y="434.3"/><use href="#bd" x="1336.9" y="434.3"/><use href="#bd" x="1337.7" y="434.4"/><use href="#bd" x="1338.4" y="434.4"/><use href="#bd" x="1339.1" y="434.4"/><use href="#bd" x="1339.9" y="434.5"/><use href="#bd" x="1340.6" y="434.5"/><use href="#bd" x="1341.3" y="434.6"/><use href="#bd" x="1342.1" y="434.6"/><use href="#bd" x="1342.8" y="434.7"/><use href="#bd" x="1343.5" y="434.7"/><use href="#bd" x="1344.3" y="434.8"/><use href="#bd" x="1345.0" y="434.8"/><use href="#bd" x="1345.7" y="434.8"/><use href="#bd" x="1346.5" y="434.9"/><use href="#bd" x="1347.2" y="434.9"/><use href="#bd" x="1348.0" y="435.0"/><use href="#bd" x="1348.7" y="435.0"/><use href="#bd" x="1349.4" y="435.0"/><use href="#bd" x="1350.2" y="435.1"/><use href="#bd" x="1350.9" y="435.1"/><use href="#bd" x="1351.6" y="435.2"/><use href="#bd" x="1352.4" y="435.2"/><use href="#bd" x="1353.1" y="435.3"/><use href="#bd" x="1353.8" y="435.3"/><use href="#bd" x="1354.6" y="435.3"/><use href="#bd" x="1355.3" y="435.4"/><use href="#bd" x="1356.0" y="435.4"/><use href="#bd" x="1356.8" y="435.4"/><use href="#bd" x="1357.5" y="435.5"/><use href="#bd" x="1358.2" y="435.5"/><use href="#bd" x="1359.0" y="435.6"/><use href="#bd" x="1359.7" y="435.6"/><use href="#bd" x="1360.5" y="435.6"/><use href="#bd" x="1361.2" y="435.7"/><use href="#bd" x="1361.9" y="435.7"/><use href="#bd" x="1362.7" y="435.7"/><use href="#bd" x="1363.4" y="435.8"/><use href="#bd" x="1364.1" y="435.8"/><use href="#bd" x="1364.9" y="435.8"/><use href="#bd" x="1365.6" y="435.9"/><use href="#bd" x="1366.3" y="435.9"/><use href="#bd" x="1367.1" y="435.9"/><use href="#bd" x="1367.8" y="436.0"/><use href="#bd" x="1368.5" y="436.0"/><use href="#bd" x="1369.3" y="436.0"/><use href="#bd" x="1370.0" y="436.1"/><use href="#bd" x="1370.7" y="436.1"/><use href="#bd" x="1371.5" y="436.1"/><use href="#bd" x="1372.2" y="436.2"/><use href="#bd" x="1373.0" y="436.2"/><use href="#bd" x="1373.7" y="436.2"/><use href="#bd" x="1374.4" y="436.2"/><use href="#bd" x="1375.2" y="436.3"/><use href="#bd" x="1375.9" y="436.3"/><use href="#bd" x="1376.6" y="436.3"/><use href="#bd" x="1377.4" y="436.3"/><use href="#bd" x="1378.1" y="436.4"/><use href="#bd" x="1378.8" y="436.4"/><use href="#bd" x="1379.6" y="436.4"/><use href="#bd" x="1380.3" y="436.4"/><use href="#bd" x="1381.0" y="436.4"/><use href="#bd" x="1381.8" y="436.4"/><use href="#bd" x="1382.5" y="436.5"/><use href="#bd" x="1383.3" y="436.5"/><use href="#bd" x="1384.0" y="436.5"/><use href="#bd" x="1384.7" y="436.5"/><use href="#bd" x="1385.5" y="436.5"/><use href="#bd" x="1386.2" y="436.5"/><use href="#bd" x="1386.9" y="436.6"/><use href="#bd" x="1387.7" y="436.6"/><use href="#bd" x="1388.4" y="436.6"/><use href="#bd" x="1389.1" y="436.6"/><use href="#bd" x="1389.9" y="436.6"/><use href="#bd" x="1390.6" y="436.6"/><use href="#bd" x="1391.0" y="436.6"/></g>
<g clip-path="url(#clb)"><use href="#bq" x="946.4" y="432.4"/><use href="#bq" x="946.9" y="431.4"/><use href="#bq" x="947.5" y="431.6"/><use href="#bq" x="948.0" y="431.8"/><use href="#bq" x="948.5" y="431.2"/><use href="#bq" x="949.1" y="431.6"/><use href="#bq" x="949.6" y="431.6"/><use href="#bq" x="950.1" y="430.8"/><use href="#bq" x="950.7" y="432.1"/><use href="#bq" x="951.2" y="431.9"/><use href="#bq" x="951.7" y="431.3"/><use href="#bq" x="952.3" y="431.5"/><use href="#bq" x="952.8" y="431.8"/><use href="#bq" x="953.3" y="431.5"/><use href="#bq" x="953.9" y="431.5"/><use href="#bq" x="954.4" y="430.9"/><use href="#bq" x="954.9" y="431.8"/><use href="#bq" x="955.5" y="431.6"/><use href="#bq" x="956.0" y="431.7"/><use href="#bq" x="956.5" y="430.9"/><use href="#bq" x="957.1" y="432.3"/><use href="#bq" x="957.6" y="431.7"/><use href="#bq" x="958.1" y="431.4"/><use href="#bq" x="958.6" y="432.5"/><use href="#bq" x="959.2" y="431.6"/><use href="#bq" x="959.7" y="430.9"/><use href="#bq" x="960.2" y="431.4"/><use href="#bq" x="960.8" y="430.5"/><use href="#bq" x="961.3" y="432.0"/><use href="#bq" x="961.8" y="431.4"/><use href="#bq" x="962.4" y="431.2"/><use href="#bq" x="962.9" y="432.1"/><use href="#bq" x="963.4" y="430.8"/><use href="#bq" x="964.0" y="431.8"/><use href="#bq" x="964.5" y="430.6"/><use href="#bq" x="965.0" y="431.3"/><use href="#bq" x="965.6" y="431.0"/><use href="#bq" x="966.1" y="432.2"/><use href="#bq" x="966.6" y="432.3"/><use href="#bq" x="967.2" y="431.4"/><use href="#bq" x="967.7" y="431.9"/><use href="#bq" x="968.2" y="431.5"/><use href="#bq" x="968.8" y="431.8"/><use href="#bq" x="969.3" y="431.2"/><use href="#bq" x="969.8" y="430.8"/><use href="#bq" x="970.4" y="430.7"/><use href="#bq" x="970.9" y="431.7"/><use href="#bq" x="971.4" y="432.5"/><use href="#bq" x="972.0" y="431.6"/><use href="#bq" x="972.5" y="431.3"/><use href="#bq" x="973.0" y="432.4"/><use href="#bq" x="973.6" y="431.6"/><use href="#bq" x="974.1" y="431.5"/><use href="#bq" x="974.6" y="431.6"/><use href="#bq" x="975.2" y="431.4"/><use href="#bq" x="975.7" y="431.4"/><use href="#bq" x="976.2" y="430.8"/><use href="#bq" x="976.8" y="431.7"/><use href="#bq" x="977.3" y="431.4"/><use href="#bq" x="977.8" y="432.0"/><use href="#bq" x="978.4" y="431.3"/><use href="#bq" x="978.9" y="430.6"/><use href="#bq" x="979.4" y="431.4"/><use href="#bq" x="980.0" y="432.2"/><use href="#bq" x="980.5" y="431.3"/><use href="#bq" x="981.0" y="431.0"/><use href="#bq" x="981.5" y="430.9"/><use href="#bq" x="982.1" y="431.0"/><use href="#bq" x="982.6" y="431.3"/><use href="#bq" x="983.1" y="430.9"/><use href="#bq" x="983.7" y="432.1"/><use href="#bq" x="984.2" y="431.3"/><use href="#bq" x="984.7" y="431.5"/><use href="#bq" x="985.3" y="432.0"/><use href="#bq" x="985.8" y="432.1"/><use href="#bq" x="986.3" y="431.3"/><use href="#bq" x="986.9" y="431.5"/><use href="#bq" x="987.4" y="431.7"/><use href="#bq" x="987.9" y="431.2"/><use href="#bq" x="988.5" y="430.5"/><use href="#bq" x="989.0" y="431.5"/><use href="#bq" x="989.5" y="431.6"/><use href="#bq" x="990.1" y="431.3"/><use href="#bq" x="990.6" y="430.7"/><use href="#bq" x="991.1" y="431.0"/><use href="#bq" x="991.7" y="430.7"/><use href="#bq" x="992.2" y="430.8"/><use href="#bq" x="992.7" y="431.5"/><use href="#bq" x="993.3" y="431.5"/><use href="#bq" x="993.8" y="431.1"/><use href="#bq" x="994.3" y="430.9"/><use href="#bq" x="994.9" y="430.9"/><use href="#bq" x="995.4" y="430.6"/><use href="#bq" x="995.9" y="430.5"/><use href="#bq" x="996.5" y="430.1"/><use href="#bq" x="997.0" y="430.3"/><use href="#bq" x="997.5" y="431.3"/><use href="#bq" x="998.1" y="430.6"/><use href="#bq" x="998.6" y="430.0"/><use href="#bq" x="999.1" y="429.8"/><use href="#bq" x="999.7" y="429.5"/><use href="#bq" x="1000.2" y="430.0"/><use href="#bq" x="1000.7" y="429.9"/><use href="#bq" x="1001.3" y="428.9"/><use href="#bq" x="1001.8" y="429.7"/><use href="#bq" x="1002.3" y="429.1"/><use href="#bq" x="1002.9" y="429.9"/><use href="#bq" x="1003.4" y="429.1"/><use href="#bq" x="1003.9" y="429.7"/><use href="#bq" x="1004.4" y="428.6"/><use href="#bq" x="1005.0" y="428.5"/><use href="#bq" x="1005.5" y="428.6"/><use href="#bq" x="1006.0" y="428.8"/><use href="#bq" x="1006.6" y="428.4"/><use href="#bq" x="1007.1" y="427.4"/><use href="#bq" x="1007.6" y="427.9"/><use href="#bq" x="1008.2" y="427.6"/><use href="#bq" x="1008.7" y="427.3"/><use href="#bq" x="1009.2" y="427.0"/><use href="#bq" x="1009.8" y="427.9"/><use href="#bq" x="1010.3" y="426.7"/><use href="#bq" x="1010.8" y="426.3"/><use href="#bq" x="1011.4" y="426.7"/><use href="#bq" x="1011.9" y="426.3"/><use href="#bq" x="1012.4" y="425.9"/><use href="#bq" x="1013.0" y="426.1"/><use href="#bq" x="1013.5" y="425.7"/><use href="#bq" x="1014.0" y="425.3"/><use href="#bq" x="1014.6" y="425.3"/><use href="#bq" x="1015.1" y="424.7"/><use href="#bq" x="1015.6" y="423.9"/><use href="#bq" x="1016.2" y="423.7"/><use href="#bq" x="1016.7" y="423.3"/><use href="#bq" x="1017.2" y="423.2"/><use href="#bq" x="1017.8" y="422.3"/><use href="#bq" x="1018.3" y="421.5"/><use href="#bq" x="1018.8" y="422.0"/><use href="#bq" x="1019.4" y="420.9"/><use href="#bq" x="1019.9" y="420.2"/><use href="#bq" x="1020.4" y="420.8"/><use href="#bq" x="1021.0" y="419.8"/><use href="#bq" x="1021.5" y="419.8"/><use href="#bq" x="1022.0" y="418.8"/><use href="#bq" x="1022.6" y="417.9"/><use href="#bq" x="1023.1" y="417.2"/><use href="#bq" x="1023.6" y="416.8"/><use href="#bq" x="1024.2" y="416.2"/><use href="#bq" x="1024.7" y="415.2"/><use href="#bq" x="1025.2" y="414.7"/><use href="#bq" x="1025.8" y="413.3"/><use href="#bq" x="1026.3" y="413.2"/><use href="#bq" x="1026.8" y="411.5"/><use href="#bq" x="1027.3" y="411.4"/><use href="#bq" x="1027.9" y="410.9"/><use href="#bq" x="1028.4" y="410.2"/><use href="#bq" x="1028.9" y="409.6"/><use href="#bq" x="1029.5" y="407.2"/><use href="#bq" x="1030.0" y="407.3"/><use href="#bq" x="1030.5" y="406.6"/><use href="#bq" x="1031.1" y="405.5"/><use href="#bq" x="1031.6" y="403.6"/><use href="#bq" x="1032.1" y="403.1"/><use href="#bq" x="1032.7" y="402.6"/><use href="#bq" x="1033.2" y="399.9"/><use href="#bq" x="1033.7" y="399.6"/><use href="#bq" x="1034.3" y="398.7"/><use href="#bq" x="1034.8" y="396.6"/><use href="#bq" x="1035.3" y="395.9"/><use href="#bq" x="1035.9" y="393.9"/><use href="#bq" x="1036.4" y="392.7"/><use href="#bq" x="1036.9" y="391.3"/><use href="#bq" x="1037.5" y="390.4"/><use href="#bq" x="1038.0" y="389.0"/><use href="#bq" x="1038.5" y="388.0"/><use href="#bq" x="1039.1" y="385.8"/><use href="#bq" x="1039.6" y="384.6"/><use href="#bq" x="1040.1" y="383.6"/><use href="#bq" x="1040.7" y="381.9"/><use href="#bq" x="1041.2" y="379.5"/><use href="#bq" x="1041.7" y="378.8"/><use href="#bq" x="1042.3" y="376.6"/><use href="#bq" x="1042.8" y="375.4"/><use href="#bq" x="1043.3" y="373.7"/><use href="#bq" x="1043.9" y="372.4"/><use href="#bq" x="1044.4" y="370.2"/><use href="#bq" x="1044.9" y="367.6"/><use href="#bq" x="1045.5" y="366.1"/><use href="#bq" x="1046.0" y="365.4"/><use href="#bq" x="1046.5" y="363.2"/><use href="#bq" x="1047.1" y="362.0"/><use href="#bq" x="1047.6" y="359.8"/><use href="#bq" x="1048.1" y="357.6"/><use href="#bq" x="1048.7" y="356.5"/><use href="#bq" x="1049.2" y="353.8"/><use href="#bq" x="1049.7" y="351.4"/><use href="#bq" x="1050.2" y="351.3"/><use href="#bq" x="1050.8" y="347.6"/><use href="#bq" x="1051.3" y="346.8"/><use href="#bq" x="1051.8" y="345.1"/><use href="#bq" x="1052.4" y="342.8"/><use href="#bq" x="1052.9" y="340.1"/><use href="#bq" x="1053.4" y="339.4"/><use href="#bq" x="1054.0" y="336.4"/><use href="#bq" x="1054.5" y="334.6"/><use href="#bq" x="1055.0" y="333.1"/><use href="#bq" x="1055.6" y="331.7"/><use href="#bq" x="1056.1" y="329.6"/><use href="#bq" x="1056.6" y="327.9"/><use href="#bq" x="1057.2" y="325.4"/><use href="#bq" x="1057.7" y="323.6"/><use href="#bq" x="1058.2" y="321.2"/><use href="#bq" x="1058.8" y="319.7"/><use href="#bq" x="1059.3" y="318.2"/><use href="#bq" x="1059.8" y="316.0"/><use href="#bq" x="1060.4" y="314.5"/><use href="#bq" x="1060.9" y="312.2"/><use href="#bq" x="1061.4" y="310.5"/><use href="#bq" x="1062.0" y="309.1"/><use href="#bq" x="1062.5" y="307.4"/><use href="#bq" x="1063.0" y="306.1"/><use href="#bq" x="1063.6" y="304.2"/><use href="#bq" x="1064.1" y="303.3"/><use href="#bq" x="1064.6" y="300.8"/><use href="#bq" x="1065.2" y="299.2"/><use href="#bq" x="1065.7" y="297.2"/><use href="#bq" x="1066.2" y="296.2"/><use href="#bq" x="1066.8" y="295.0"/><use href="#bq" x="1067.3" y="292.9"/><use href="#bq" x="1067.8" y="291.8"/><use href="#bq" x="1068.4" y="290.9"/><use href="#bq" x="1068.9" y="289.2"/><use href="#bq" x="1069.4" y="287.9"/><use href="#bq" x="1070.0" y="287.5"/><use href="#bq" x="1070.5" y="286.1"/><use href="#bq" x="1071.0" y="285.3"/><use href="#bq" x="1071.6" y="284.6"/><use href="#bq" x="1072.1" y="283.7"/><use href="#bq" x="1072.6" y="282.1"/><use href="#bq" x="1073.1" y="281.1"/><use href="#bq" x="1073.7" y="280.6"/><use href="#bq" x="1074.2" y="279.6"/><use href="#bq" x="1074.7" y="278.0"/><use href="#bq" x="1075.3" y="278.7"/><use href="#bq" x="1075.8" y="277.5"/><use href="#bq" x="1076.3" y="277.2"/><use href="#bq" x="1076.9" y="275.8"/><use href="#bq" x="1077.4" y="276.5"/><use href="#bq" x="1077.9" y="275.3"/><use href="#bq" x="1078.5" y="275.2"/><use href="#bq" x="1079.0" y="274.3"/><use href="#bq" x="1079.5" y="274.5"/><use href="#bq" x="1080.1" y="274.2"/><use href="#bq" x="1080.6" y="273.9"/><use href="#bq" x="1081.1" y="273.9"/><use href="#bq" x="1081.7" y="273.5"/><use href="#bq" x="1082.2" y="273.7"/><use href="#bq" x="1082.7" y="272.8"/><use href="#bq" x="1083.3" y="272.4"/><use href="#bq" x="1083.8" y="272.7"/><use href="#bq" x="1084.3" y="272.9"/><use href="#bq" x="1084.9" y="273.1"/><use href="#bq" x="1085.4" y="272.9"/><use href="#bq" x="1085.9" y="271.7"/><use href="#bq" x="1086.5" y="272.7"/><use href="#bq" x="1087.0" y="273.3"/><use href="#bq" x="1087.5" y="272.8"/><use href="#bq" x="1088.1" y="272.6"/><use href="#bq" x="1088.6" y="273.2"/><use href="#bq" x="1089.1" y="273.0"/><use href="#bq" x="1089.7" y="273.7"/><use href="#bq" x="1090.2" y="273.6"/><use href="#bq" x="1090.7" y="274.5"/><use href="#bq" x="1091.3" y="274.3"/><use href="#bq" x="1091.8" y="274.0"/><use href="#bq" x="1092.3" y="274.9"/><use href="#bq" x="1092.9" y="275.3"/><use href="#bq" x="1093.4" y="274.9"/><use href="#bq" x="1093.9" y="275.3"/><use href="#bq" x="1094.5" y="274.7"/><use href="#bq" x="1095.0" y="276.5"/><use href="#bq" x="1095.5" y="276.3"/><use href="#bq" x="1096.0" y="276.0"/><use href="#bq" x="1096.6" y="276.7"/><use href="#bq" x="1097.1" y="277.9"/><use href="#bq" x="1097.6" y="278.9"/><use href="#bq" x="1098.2" y="279.1"/><use href="#bq" x="1098.7" y="280.0"/><use href="#bq" x="1099.2" y="280.0"/><use href="#bq" x="1099.8" y="280.5"/><use href="#bq" x="1100.3" y="282.3"/><use href="#bq" x="1100.8" y="282.8"/><use href="#bq" x="1101.4" y="283.3"/><use href="#bq" x="1101.9" y="284.6"/><use href="#bq" x="1102.4" y="284.4"/><use href="#bq" x="1103.0" y="285.4"/><use href="#bq" x="1103.5" y="286.8"/><use href="#bq" x="1104.0" y="287.9"/><use href="#bq" x="1104.6" y="287.8"/><use href="#bq" x="1105.1" y="289.4"/><use href="#bq" x="1105.6" y="289.2"/><use href="#bq" x="1106.2" y="290.5"/><use href="#bq" x="1106.7" y="291.2"/><use href="#bq" x="1107.2" y="291.5"/><use href="#bq" x="1107.8" y="293.2"/><use href="#bq" x="1108.3" y="294.5"/><use href="#bq" x="1108.8" y="295.0"/><use href="#bq" x="1109.4" y="296.0"/><use href="#bq" x="1109.9" y="297.7"/><use href="#bq" x="1110.4" y="297.5"/><use href="#bq" x="1111.0" y="298.5"/><use href="#bq" x="1111.5" y="299.9"/><use href="#bq" x="1112.0" y="300.7"/><use href="#bq" x="1112.6" y="302.8"/><use href="#bq" x="1113.1" y="303.4"/><use href="#bq" x="1113.6" y="303.9"/><use href="#bq" x="1114.2" y="305.0"/><use href="#bq" x="1114.7" y="307.6"/><use href="#bq" x="1115.2" y="307.1"/><use href="#bq" x="1115.8" y="308.1"/><use href="#bq" x="1116.3" y="309.6"/><use href="#bq" x="1116.8" y="310.8"/><use href="#bq" x="1117.4" y="311.7"/><use href="#bq" x="1117.9" y="312.3"/><use href="#bq" x="1118.4" y="313.3"/><use href="#bq" x="1118.9" y="315.2"/><use href="#bq" x="1119.5" y="316.0"/><use href="#bq" x="1120.0" y="316.3"/><use href="#bq" x="1120.5" y="318.7"/><use href="#bq" x="1121.1" y="319.6"/><use href="#bq" x="1121.6" y="320.2"/><use href="#bq" x="1122.1" y="321.3"/><use href="#bq" x="1122.7" y="322.5"/><use href="#bq" x="1123.2" y="323.2"/><use href="#bq" x="1123.7" y="323.9"/><use href="#bq" x="1124.3" y="325.7"/><use href="#bq" x="1124.8" y="325.9"/><use href="#bq" x="1125.3" y="327.7"/><use href="#bq" x="1125.9" y="327.8"/><use href="#bq" x="1126.4" y="329.4"/><use href="#bq" x="1126.9" y="330.4"/><use href="#bq" x="1127.5" y="332.2"/><use href="#bq" x="1128.0" y="331.9"/><use href="#bq" x="1128.5" y="332.7"/><use href="#bq" x="1129.1" y="333.9"/><use href="#bq" x="1129.6" y="334.7"/><use href="#bq" x="1130.1" y="335.9"/><use href="#bq" x="1130.7" y="337.3"/><use href="#bq" x="1131.2" y="338.4"/><use href="#bq" x="1131.7" y="339.7"/><use href="#bq" x="1132.3" y="339.6"/><use href="#bq" x="1132.8" y="342.0"/><use href="#bq" x="1133.3" y="342.7"/><use href="#bq" x="1133.9" y="342.7"/><use href="#bq" x="1134.4" y="342.7"/><use href="#bq" x="1134.9" y="344.6"/><use href="#bq" x="1135.5" y="345.7"/><use href="#bq" x="1136.0" y="345.6"/><use href="#bq" x="1136.5" y="347.7"/><use href="#bq" x="1137.1" y="348.6"/><use href="#bq" x="1137.6" y="349.3"/><use href="#bq" x="1138.1" y="351.0"/><use href="#bq" x="1138.7" y="352.1"/><use href="#bq" x="1139.2" y="352.5"/><use href="#bq" x="1139.7" y="353.8"/><use href="#bq" x="1140.3" y="354.3"/><use href="#bq" x="1140.8" y="355.2"/><use href="#bq" x="1141.3" y="356.6"/><use href="#bq" x="1141.8" y="357.7"/><use href="#bq" x="1142.4" y="358.1"/><use href="#bq" x="1142.9" y="358.3"/><use href="#bq" x="1143.4" y="360.4"/><use href="#bq" x="1144.0" y="360.3"/><use href="#bq" x="1144.5" y="361.8"/><use href="#bq" x="1145.0" y="363.4"/><use href="#bq" x="1145.6" y="363.4"/><use href="#bq" x="1146.1" y="363.6"/><use href="#bq" x="1146.6" y="364.2"/><use href="#bq" x="1147.2" y="366.2"/><use href="#bq" x="1147.7" y="366.4"/><use href="#bq" x="1148.2" y="367.4"/><use href="#bq" x="1148.8" y="368.3"/><use href="#bq" x="1149.3" y="368.5"/><use href="#bq" x="1149.8" y="369.1"/><use href="#bq" x="1150.4" y="369.5"/><use href="#bq" x="1150.9" y="369.2"/><use href="#bq" x="1151.4" y="370.6"/><use href="#bq" x="1152.0" y="371.9"/><use href="#bq" x="1152.5" y="372.6"/><use href="#bq" x="1153.0" y="373.5"/><use href="#bq" x="1153.6" y="373.9"/><use href="#bq" x="1154.1" y="374.7"/><use href="#bq" x="1154.6" y="375.6"/><use href="#bq" x="1155.2" y="375.5"/><use href="#bq" x="1155.7" y="376.4"/><use href="#bq" x="1156.2" y="376.5"/><use href="#bq" x="1156.8" y="378.3"/><use href="#bq" x="1157.3" y="378.5"/><use href="#bq" x="1157.8" y="379.3"/><use href="#bq" x="1158.4" y="380.4"/><use href="#bq" x="1158.9" y="380.8"/><use href="#bq" x="1159.4" y="380.9"/><use href="#bq" x="1160.0" y="381.9"/><use href="#bq" x="1160.5" y="381.5"/><use href="#bq" x="1161.0" y="382.9"/><use href="#bq" x="1161.6" y="383.4"/><use href="#bq" x="1162.1" y="383.1"/><use href="#bq" x="1162.6" y="385.1"/><use href="#bq" x="1163.2" y="384.7"/><use href="#bq" x="1163.7" y="385.9"/><use href="#bq" x="1164.2" y="386.0"/><use href="#bq" x="1164.7" y="387.2"/><use href="#bq" x="1165.3" y="387.9"/><use href="#bq" x="1165.8" y="387.4"/><use href="#bq" x="1166.3" y="387.7"/><use href="#bq" x="1166.9" y="388.8"/><use href="#bq" x="1167.4" y="389.8"/><use href="#bq" x="1167.9" y="389.8"/><use href="#bq" x="1168.5" y="390.2"/><use href="#bq" x="1169.0" y="391.3"/><use href="#bq" x="1169.5" y="390.4"/><use href="#bq" x="1170.1" y="391.8"/><use href="#bq" x="1170.6" y="392.0"/><use href="#bq" x="1171.1" y="393.3"/><use href="#bq" x="1171.7" y="393.4"/><use href="#bq" x="1172.2" y="393.7"/><use href="#bq" x="1172.7" y="394.6"/><use href="#bq" x="1173.3" y="394.6"/><use href="#bq" x="1173.8" y="395.7"/><use href="#bq" x="1174.3" y="395.9"/><use href="#bq" x="1174.9" y="396.6"/><use href="#bq" x="1175.4" y="396.9"/><use href="#bq" x="1175.9" y="398.1"/><use href="#bq" x="1176.5" y="398.1"/><use href="#bq" x="1177.0" y="398.8"/><use href="#bq" x="1177.5" y="399.3"/><use href="#bq" x="1178.1" y="399.1"/><use href="#bq" x="1178.6" y="400.2"/><use href="#bq" x="1179.1" y="400.5"/><use href="#bq" x="1179.7" y="400.9"/><use href="#bq" x="1180.2" y="401.0"/><use href="#bq" x="1180.7" y="401.3"/><use href="#bq" x="1181.3" y="402.3"/><use href="#bq" x="1181.8" y="403.3"/><use href="#bq" x="1182.3" y="402.3"/><use href="#bq" x="1182.9" y="403.3"/><use href="#bq" x="1183.4" y="403.3"/><use href="#bq" x="1183.9" y="404.2"/><use href="#bq" x="1184.5" y="404.4"/><use href="#bq" x="1185.0" y="405.0"/><use href="#bq" x="1185.5" y="403.6"/><use href="#bq" x="1186.1" y="405.0"/><use href="#bq" x="1186.6" y="405.1"/><use href="#bq" x="1187.1" y="405.9"/><use href="#bq" x="1187.6" y="406.0"/><use href="#bq" x="1188.2" y="406.3"/><use href="#bq" x="1188.7" y="407.3"/><use href="#bq" x="1189.2" y="408.1"/><use href="#bq" x="1189.8" y="406.3"/><use href="#bq" x="1190.3" y="407.8"/><use href="#bq" x="1190.8" y="408.4"/><use href="#bq" x="1191.4" y="408.6"/><use href="#bq" x="1191.9" y="408.7"/><use href="#bq" x="1192.4" y="408.6"/><use href="#bq" x="1193.0" y="409.0"/><use href="#bq" x="1193.5" y="410.1"/><use href="#bq" x="1194.0" y="410.5"/><use href="#bq" x="1194.6" y="410.4"/><use href="#bq" x="1195.1" y="410.3"/><use href="#bq" x="1195.6" y="410.9"/><use href="#bq" x="1196.2" y="411.1"/><use href="#bq" x="1196.7" y="411.7"/><use href="#bq" x="1197.2" y="411.8"/><use href="#bq" x="1197.8" y="411.7"/><use href="#bq" x="1198.3" y="412.3"/><use href="#bq" x="1198.8" y="411.9"/><use href="#bq" x="1199.4" y="413.1"/><use href="#bq" x="1199.9" y="413.5"/><use href="#bq" x="1200.4" y="412.7"/><use href="#bq" x="1201.0" y="413.6"/><use href="#bq" x="1201.5" y="413.2"/><use href="#bq" x="1202.0" y="414.4"/><use href="#bq" x="1202.6" y="414.5"/><use href="#bq" x="1203.1" y="414.2"/><use href="#bq" x="1203.6" y="415.0"/><use href="#bq" x="1204.2" y="414.5"/><use href="#bq" x="1204.7" y="414.7"/><use href="#bq" x="1205.2" y="414.9"/><use href="#bq" x="1205.8" y="415.3"/><use href="#bq" x="1206.3" y="415.4"/><use href="#bq" x="1206.8" y="415.8"/><use href="#bq" x="1207.4" y="415.7"/><use href="#bq" x="1207.9" y="416.5"/><use href="#bq" x="1208.4" y="416.8"/><use href="#bq" x="1209.0" y="416.3"/><use href="#bq" x="1209.5" y="416.1"/><use href="#bq" x="1210.0" y="417.2"/><use href="#bq" x="1210.5" y="417.6"/><use href="#bq" x="1211.1" y="417.2"/><use href="#bq" x="1211.6" y="416.8"/><use href="#bq" x="1212.1" y="417.7"/><use href="#bq" x="1212.7" y="418.5"/><use href="#bq" x="1213.2" y="417.1"/><use href="#bq" x="1213.7" y="418.3"/><use href="#bq" x="1214.3" y="418.1"/><use href="#bq" x="1214.8" y="418.1"/><use href="#bq" x="1215.3" y="418.8"/><use href="#bq" x="1215.9" y="418.2"/><use href="#bq" x="1216.4" y="419.1"/><use href="#bq" x="1216.9" y="419.7"/><use href="#bq" x="1217.5" y="419.3"/><use href="#bq" x="1218.0" y="419.0"/><use href="#bq" x="1218.5" y="418.8"/><use href="#bq" x="1219.1" y="419.2"/><use href="#bq" x="1219.6" y="419.1"/><use href="#bq" x="1220.1" y="420.8"/><use href="#bq" x="1220.7" y="420.1"/><use href="#bq" x="1221.2" y="419.9"/><use href="#bq" x="1221.7" y="419.9"/><use href="#bq" x="1222.3" y="420.2"/><use href="#bq" x="1222.8" y="420.7"/><use href="#bq" x="1223.3" y="420.4"/><use href="#bq" x="1223.9" y="421.9"/><use href="#bq" x="1224.4" y="420.9"/><use href="#bq" x="1224.9" y="421.1"/><use href="#bq" x="1225.5" y="421.7"/><use href="#bq" x="1226.0" y="422.4"/><use href="#bq" x="1226.5" y="422.4"/><use href="#bq" x="1227.1" y="421.8"/><use href="#bq" x="1227.6" y="422.2"/><use href="#bq" x="1228.1" y="422.3"/><use href="#bq" x="1228.7" y="422.7"/><use href="#bq" x="1229.2" y="422.7"/><use href="#bq" x="1229.7" y="422.3"/><use href="#bq" x="1230.3" y="422.3"/><use href="#bq" x="1230.8" y="423.0"/><use href="#bq" x="1231.3" y="422.6"/><use href="#bq" x="1231.9" y="423.8"/><use href="#bq" x="1232.4" y="423.4"/><use href="#bq" x="1232.9" y="423.0"/><use href="#bq" x="1233.4" y="423.5"/><use href="#bq" x="1234.0" y="423.5"/><use href="#bq" x="1234.5" y="423.8"/><use href="#bq" x="1235.0" y="424.4"/><use href="#bq" x="1235.6" y="423.4"/><use href="#bq" x="1236.1" y="423.4"/><use href="#bq" x="1236.6" y="424.5"/><use href="#bq" x="1237.2" y="424.4"/><use href="#bq" x="1237.7" y="424.6"/><use href="#bq" x="1238.2" y="424.9"/><use href="#bq" x="1238.8" y="424.7"/><use href="#bq" x="1239.3" y="425.2"/><use href="#bq" x="1239.8" y="424.6"/><use href="#bq" x="1240.4" y="425.1"/><use href="#bq" x="1240.9" y="424.8"/><use href="#bq" x="1241.4" y="424.8"/><use href="#bq" x="1242.0" y="425.6"/><use href="#bq" x="1242.5" y="425.7"/><use href="#bq" x="1243.0" y="424.7"/><use href="#bq" x="1243.6" y="425.2"/><use href="#bq" x="1244.1" y="425.9"/><use href="#bq" x="1244.6" y="426.3"/><use href="#bq" x="1245.2" y="425.6"/><use href="#bq" x="1245.7" y="425.9"/><use href="#bq" x="1246.2" y="425.5"/><use href="#bq" x="1246.8" y="427.3"/><use href="#bq" x="1247.3" y="426.5"/><use href="#bq" x="1247.8" y="426.8"/><use href="#bq" x="1248.4" y="426.8"/><use href="#bq" x="1248.9" y="427.0"/><use href="#bq" x="1249.4" y="426.9"/><use href="#bq" x="1250.0" y="426.6"/><use href="#bq" x="1250.5" y="427.1"/><use href="#bq" x="1251.0" y="426.9"/><use href="#bq" x="1251.6" y="427.6"/><use href="#bq" x="1252.1" y="426.7"/><use href="#bq" x="1252.6" y="426.9"/><use href="#bq" x="1253.2" y="427.5"/><use href="#bq" x="1253.7" y="427.9"/><use href="#bq" x="1254.2" y="427.4"/><use href="#bq" x="1254.8" y="427.1"/><use href="#bq" x="1255.3" y="427.4"/><use href="#bq" x="1255.8" y="427.3"/><use href="#bq" x="1256.3" y="428.5"/><use href="#bq" x="1256.9" y="428.1"/><use href="#bq" x="1257.4" y="428.3"/><use href="#bq" x="1257.9" y="427.9"/><use href="#bq" x="1258.5" y="427.6"/><use href="#bq" x="1259.0" y="428.4"/><use href="#bq" x="1259.5" y="428.7"/><use href="#bq" x="1260.1" y="428.3"/><use href="#bq" x="1260.6" y="428.0"/><use href="#bq" x="1261.1" y="428.6"/><use href="#bq" x="1261.7" y="428.0"/><use href="#bq" x="1262.2" y="428.5"/><use href="#bq" x="1262.7" y="427.9"/><use href="#bq" x="1263.3" y="427.9"/><use href="#bq" x="1263.8" y="428.6"/><use href="#bq" x="1264.3" y="428.5"/><use href="#bq" x="1264.9" y="429.3"/><use href="#bq" x="1265.4" y="428.4"/><use href="#bq" x="1265.9" y="428.5"/><use href="#bq" x="1266.5" y="428.1"/><use href="#bq" x="1267.0" y="427.8"/><use href="#bq" x="1267.5" y="427.9"/><use href="#bq" x="1268.1" y="428.9"/><use href="#bq" x="1268.6" y="428.2"/><use href="#bq" x="1269.1" y="429.3"/><use href="#bq" x="1269.7" y="429.5"/><use href="#bq" x="1270.2" y="428.7"/><use href="#bq" x="1270.7" y="429.7"/><use href="#bq" x="1271.3" y="429.1"/><use href="#bq" x="1271.8" y="429.5"/><use href="#bq" x="1272.3" y="428.9"/><use href="#bq" x="1272.9" y="429.5"/><use href="#bq" x="1273.4" y="428.7"/><use href="#bq" x="1273.9" y="429.4"/><use href="#bq" x="1274.5" y="429.0"/><use href="#bq" x="1275.0" y="429.2"/><use href="#bq" x="1275.5" y="429.5"/><use href="#bq" x="1276.1" y="429.4"/><use href="#bq" x="1276.6" y="429.3"/><use href="#bq" x="1277.1" y="429.7"/><use href="#bq" x="1277.7" y="429.8"/><use href="#bq" x="1278.2" y="428.8"/><use href="#bq" x="1278.7" y="429.7"/><use href="#bq" x="1279.2" y="429.8"/><use href="#bq" x="1279.8" y="429.2"/><use href="#bq" x="1280.3" y="429.8"/><use href="#bq" x="1280.8" y="429.0"/><use href="#bq" x="1281.4" y="430.3"/><use href="#bq" x="1281.9" y="429.6"/><use href="#bq" x="1282.4" y="429.7"/><use href="#bq" x="1283.0" y="430.3"/><use href="#bq" x="1283.5" y="429.7"/><use href="#bq" x="1284.0" y="430.1"/><use href="#bq" x="1284.6" y="429.4"/><use href="#bq" x="1285.1" y="429.6"/><use href="#bq" x="1285.6" y="429.3"/><use href="#bq" x="1286.2" y="429.8"/><use href="#bq" x="1286.7" y="430.4"/><use href="#bq" x="1287.2" y="430.1"/><use href="#bq" x="1287.8" y="430.4"/><use href="#bq" x="1288.3" y="429.6"/><use href="#bq" x="1288.8" y="429.7"/><use href="#bq" x="1289.4" y="429.9"/><use href="#bq" x="1289.9" y="430.4"/><use href="#bq" x="1290.4" y="430.3"/><use href="#bq" x="1291.0" y="430.2"/><use href="#bq" x="1291.5" y="430.5"/><use href="#bq" x="1292.0" y="430.1"/><use href="#bq" x="1292.6" y="430.2"/><use href="#bq" x="1293.1" y="430.8"/><use href="#bq" x="1293.6" y="430.0"/><use href="#bq" x="1294.2" y="430.4"/><use href="#bq" x="1294.7" y="431.0"/><use href="#bq" x="1295.2" y="430.4"/><use href="#bq" x="1295.8" y="430.7"/><use href="#bq" x="1296.3" y="430.1"/><use href="#bq" x="1296.8" y="431.3"/><use href="#bq" x="1297.4" y="429.4"/><use href="#bq" x="1297.9" y="429.9"/><use href="#bq" x="1298.4" y="430.0"/><use href="#bq" x="1299.0" y="431.2"/><use href="#bq" x="1299.5" y="430.6"/><use href="#bq" x="1300.0" y="430.4"/><use href="#bq" x="1300.6" y="429.9"/><use href="#bq" x="1301.1" y="430.7"/><use href="#bq" x="1301.6" y="430.6"/><use href="#bq" x="1302.2" y="430.3"/><use href="#bq" x="1302.7" y="429.9"/><use href="#bq" x="1303.2" y="430.1"/><use href="#bq" x="1303.7" y="430.7"/><use href="#bq" x="1304.3" y="430.8"/><use href="#bq" x="1304.8" y="430.7"/><use href="#bq" x="1305.3" y="430.6"/><use href="#bq" x="1305.9" y="429.9"/><use href="#bq" x="1306.4" y="430.7"/><use href="#bq" x="1306.9" y="430.2"/><use href="#bq" x="1307.5" y="430.7"/><use href="#bq" x="1308.0" y="430.9"/><use href="#bq" x="1308.5" y="430.4"/><use href="#bq" x="1309.1" y="430.3"/><use href="#bq" x="1309.6" y="431.2"/><use href="#bq" x="1310.1" y="430.9"/><use href="#bq" x="1310.7" y="430.5"/><use href="#bq" x="1311.2" y="429.5"/><use href="#bq" x="1311.7" y="430.8"/><use href="#bq" x="1312.3" y="431.1"/><use href="#bq" x="1312.8" y="431.4"/><use href="#bq" x="1313.3" y="430.6"/><use href="#bq" x="1313.9" y="430.6"/><use href="#bq" x="1314.4" y="430.7"/><use href="#bq" x="1314.9" y="431.3"/><use href="#bq" x="1315.5" y="430.4"/><use href="#bq" x="1316.0" y="430.9"/><use href="#bq" x="1316.5" y="430.5"/><use href="#bq" x="1317.1" y="431.1"/><use href="#bq" x="1317.6" y="430.3"/><use href="#bq" x="1318.1" y="431.1"/><use href="#bq" x="1318.7" y="430.8"/><use href="#bq" x="1319.2" y="430.9"/><use href="#bq" x="1319.7" y="431.2"/><use href="#bq" x="1320.3" y="431.5"/><use href="#bq" x="1320.8" y="430.3"/><use href="#bq" x="1321.3" y="431.5"/><use href="#bq" x="1321.9" y="431.3"/><use href="#bq" x="1322.4" y="430.9"/><use href="#bq" x="1322.9" y="431.7"/><use href="#bq" x="1323.5" y="431.2"/><use href="#bq" x="1324.0" y="431.7"/><use href="#bq" x="1324.5" y="430.8"/><use href="#bq" x="1325.1" y="430.7"/><use href="#bq" x="1325.6" y="431.7"/><use href="#bq" x="1326.1" y="432.1"/><use href="#bq" x="1326.6" y="431.4"/><use href="#bq" x="1327.2" y="431.5"/><use href="#bq" x="1327.7" y="430.9"/><use href="#bq" x="1328.2" y="430.6"/><use href="#bq" x="1328.8" y="431.1"/><use href="#bq" x="1329.3" y="431.8"/><use href="#bq" x="1329.8" y="430.3"/><use href="#bq" x="1330.4" y="431.0"/><use href="#bq" x="1330.9" y="430.3"/><use href="#bq" x="1331.4" y="431.2"/><use href="#bq" x="1332.0" y="431.6"/><use href="#bq" x="1332.5" y="430.7"/><use href="#bq" x="1333.0" y="431.0"/><use href="#bq" x="1333.6" y="431.8"/><use href="#bq" x="1334.1" y="431.2"/><use href="#bq" x="1334.6" y="430.7"/><use href="#bq" x="1335.2" y="430.7"/><use href="#bq" x="1335.7" y="430.3"/><use href="#bq" x="1336.2" y="431.6"/><use href="#bq" x="1336.8" y="430.9"/><use href="#bq" x="1337.3" y="431.7"/><use href="#bq" x="1337.8" y="431.7"/><use href="#bq" x="1338.4" y="431.0"/><use href="#bq" x="1338.9" y="431.1"/><use href="#bq" x="1339.4" y="431.6"/><use href="#bq" x="1340.0" y="431.4"/><use href="#bq" x="1340.5" y="431.4"/><use href="#bq" x="1341.0" y="430.6"/><use href="#bq" x="1341.6" y="431.7"/><use href="#bq" x="1342.1" y="430.9"/><use href="#bq" x="1342.6" y="430.3"/><use href="#bq" x="1343.2" y="431.1"/><use href="#bq" x="1343.7" y="431.5"/><use href="#bq" x="1344.2" y="432.3"/><use href="#bq" x="1344.8" y="431.2"/><use href="#bq" x="1345.3" y="430.8"/><use href="#bq" x="1345.8" y="432.3"/><use href="#bq" x="1346.4" y="431.4"/><use href="#bq" x="1346.9" y="431.2"/><use href="#bq" x="1347.4" y="430.9"/><use href="#bq" x="1348.0" y="430.9"/><use href="#bq" x="1348.5" y="432.0"/><use href="#bq" x="1349.0" y="431.3"/><use href="#bq" x="1349.5" y="431.1"/><use href="#bq" x="1350.1" y="431.2"/><use href="#bq" x="1350.6" y="432.1"/><use href="#bq" x="1351.1" y="431.1"/><use href="#bq" x="1351.7" y="431.7"/><use href="#bq" x="1352.2" y="431.5"/><use href="#bq" x="1352.7" y="431.5"/><use href="#bq" x="1353.3" y="431.0"/><use href="#bq" x="1353.8" y="431.7"/><use href="#bq" x="1354.3" y="432.2"/><use href="#bq" x="1354.9" y="431.4"/><use href="#bq" x="1355.4" y="431.0"/><use href="#bq" x="1355.9" y="430.9"/><use href="#bq" x="1356.5" y="431.5"/><use href="#bq" x="1357.0" y="431.3"/><use href="#bq" x="1357.5" y="431.4"/><use href="#bq" x="1358.1" y="431.5"/><use href="#bq" x="1358.6" y="430.8"/><use href="#bq" x="1359.1" y="431.8"/><use href="#bq" x="1359.7" y="431.6"/><use href="#bq" x="1360.2" y="431.4"/><use href="#bq" x="1360.7" y="431.6"/><use href="#bq" x="1361.3" y="431.9"/><use href="#bq" x="1361.8" y="431.5"/><use href="#bq" x="1362.3" y="431.1"/><use href="#bq" x="1362.9" y="432.0"/><use href="#bq" x="1363.4" y="431.3"/><use href="#bq" x="1363.9" y="431.2"/><use href="#bq" x="1364.5" y="430.8"/><use href="#bq" x="1365.0" y="431.5"/><use href="#bq" x="1365.5" y="431.0"/><use href="#bq" x="1366.1" y="431.3"/><use href="#bq" x="1366.6" y="431.7"/><use href="#bq" x="1367.1" y="431.5"/><use href="#bq" x="1367.7" y="432.0"/><use href="#bq" x="1368.2" y="431.7"/><use href="#bq" x="1368.7" y="431.3"/><use href="#bq" x="1369.3" y="431.4"/><use href="#bq" x="1369.8" y="431.3"/><use href="#bq" x="1370.3" y="431.8"/><use href="#bq" x="1370.9" y="431.6"/><use href="#bq" x="1371.4" y="431.4"/><use href="#bq" x="1371.9" y="431.9"/><use href="#bq" x="1372.4" y="431.6"/><use href="#bq" x="1373.0" y="431.3"/><use href="#bq" x="1373.5" y="430.9"/><use href="#bq" x="1374.0" y="431.8"/><use href="#bq" x="1374.6" y="431.7"/><use href="#bq" x="1375.1" y="431.6"/><use href="#bq" x="1375.6" y="431.4"/><use href="#bq" x="1376.2" y="431.2"/><use href="#bq" x="1376.7" y="431.5"/><use href="#bq" x="1377.2" y="431.7"/><use href="#bq" x="1377.8" y="431.5"/><use href="#bq" x="1378.3" y="431.5"/><use href="#bq" x="1378.8" y="431.4"/><use href="#bq" x="1379.4" y="431.7"/><use href="#bq" x="1379.9" y="431.7"/><use href="#bq" x="1380.4" y="431.2"/><use href="#bq" x="1381.0" y="431.9"/><use href="#bq" x="1381.5" y="431.9"/><use href="#bq" x="1382.0" y="432.0"/><use href="#bq" x="1382.6" y="431.5"/><use href="#bq" x="1383.1" y="431.5"/><use href="#bq" x="1383.6" y="431.1"/><use href="#bq" x="1384.2" y="431.9"/><use href="#bq" x="1384.7" y="430.6"/><use href="#bq" x="1385.2" y="431.4"/><use href="#bq" x="1385.8" y="431.4"/><use href="#bq" x="1386.3" y="432.0"/><use href="#bq" x="1386.8" y="431.6"/><use href="#bq" x="1387.4" y="431.2"/><use href="#bq" x="1387.9" y="431.0"/><use href="#bq" x="1388.4" y="431.3"/><use href="#bq" x="1389.0" y="431.6"/><use href="#bq" x="1389.5" y="431.6"/><use href="#bq" x="1390.0" y="431.5"/><use href="#bq" x="1390.6" y="431.3"/><use href="#bq" x="1391.0" y="431.6"/></g>
</g>
<g filter="url(#soft)">
<line x1="1183.5" y1="110.0" x2="1231.5" y2="110.0" stroke="#7dff7d" stroke-width="1.3" />
<use href="#bd" x="1207.7" y="110"/>
<line x1="1183.5" y1="152.7" x2="1231.5" y2="152.7" stroke="#7a7a7a" stroke-width="1.4" />
<rect x="1202.7" y="148.4" width="8.6" height="8.6" fill="#fff" stroke="#555" stroke-width="1.2"/>
<rect x="1198.5" y="150" width="3" height="5.4" fill="#fff"/><rect x="1212.6" y="150" width="3" height="5.4" fill="#fff"/>
<text x="1243.0" y="117.0" font-size="39" text-anchor="start" font-weight="normal" fill="#000" >Fresh</text>
<text x="1243.0" y="159.7" font-size="39" text-anchor="start" font-weight="normal" fill="#000" >Aged</text>
<rect x="130.5" y="597.8" width="559.5" height="415.9" fill="none" stroke="#1c1c1c" stroke-width="1.6"/>
<line x1="130.5" y1="1013.7" x2="139.5" y2="1013.7" stroke="#1c1c1c" stroke-width="1.6" />
<line x1="130.5" y1="988.7" x2="135.5" y2="988.7" stroke="#1c1c1c" stroke-width="1.6" />
<line x1="130.5" y1="974.0" x2="135.5" y2="974.0" stroke="#1c1c1c" stroke-width="1.6" />
<line x1="130.5" y1="963.6" x2="135.5" y2="963.6" stroke="#1c1c1c" stroke-width="1.6" />
<line x1="130.5" y1="955.6" x2="135.5" y2="955.6" stroke="#1c1c1c" stroke-width="1.6" />
<line x1="130.5" y1="949.0" x2="135.5" y2="949.0" stroke="#1c1c1c" stroke-width="1.6" />
<line x1="130.5" y1="943.4" x2="135.5" y2="943.4" stroke="#1c1c1c" stroke-width="1.6" />
<line x1="130.5" y1="938.6" x2="135.5" y2="938.6" stroke="#1c1c1c" stroke-width="1.6" />
<line x1="130.5" y1="934.3" x2="135.5" y2="934.3" stroke="#1c1c1c" stroke-width="1.6" />
<line x1="690.0" y1="972.1" x2="685.2" y2="972.1" stroke="#1c1c1c" stroke-width="1.6" />
<text x="123.2" y="1030.0" font-size="38" text-anchor="end" font-weight="normal" fill="#000" >10<tspan font-size="23" dy="-19">-5</tspan></text>
<line x1="130.5" y1="930.5" x2="139.5" y2="930.5" stroke="#1c1c1c" stroke-width="1.6" />
<line x1="690.0" y1="930.5" x2="682.5" y2="930.5" stroke="#1c1c1c" stroke-width="1.6" />
<line x1="130.5" y1="905.5" x2="135.5" y2="905.5" stroke="#1c1c1c" stroke-width="1.6" />
<line x1="130.5" y1="890.8" x2="135.5" y2="890.8" stroke="#1c1c1c" stroke-width="1.6" />
<line x1="130.5" y1="880.4" x2="135.5" y2="880.4" stroke="#1c1c1c" stroke-width="1.6" />
<line x1="130.5" y1="872.4" x2="135.5" y2="872.4" stroke="#1c1c1c" stroke-width="1.6" />
<line x1="130.5" y1="865.8" x2="135.5" y2="865.8" stroke="#1c1c1c" stroke-width="1.6" />
<line x1="130.5" y1="860.2" x2="135.5" y2="860.2" stroke="#1c1c1c" stroke-width="1.6" />
<line x1="130.5" y1="855.4" x2="135.5" y2="855.4" stroke="#1c1c1c" stroke-width="1.6" />
<line x1="130.5" y1="851.1" x2="135.5" y2="851.1" stroke="#1c1c1c" stroke-width="1.6" />
<line x1="690.0" y1="888.9" x2="685.2" y2="888.9" stroke="#1c1c1c" stroke-width="1.6" />
<text x="123.2" y="946.8" font-size="38" text-anchor="end" font-weight="normal" fill="#000" >10<tspan font-size="23" dy="-19">-4</tspan></text>
<line x1="130.5" y1="847.3" x2="139.5" y2="847.3" stroke="#1c1c1c" stroke-width="1.6" />
<line x1="690.0" y1="847.3" x2="682.5" y2="847.3" stroke="#1c1c1c" stroke-width="1.6" />
<line x1="130.5" y1="822.3" x2="135.5" y2="822.3" stroke="#1c1c1c" stroke-width="1.6" />
<line x1="130.5" y1="807.7" x2="135.5" y2="807.7" stroke="#1c1c1c" stroke-width="1.6" />
<line x1="130.5" y1="797.3" x2="135.5" y2="797.3" stroke="#1c1c1c" stroke-width="1.6" />
<line x1="130.5" y1="789.2" x2="135.5" y2="789.2" stroke="#1c1c1c" stroke-width="1.6" />
<line x1="130.5" y1="782.6" x2="135.5" y2="782.6" stroke="#1c1c1c" stroke-width="1.6" />
<line x1="130.5" y1="777.0" x2="135.5" y2="777.0" stroke="#1c1c1c" stroke-width="1.6" />
<line x1="130.5" y1="772.2" x2="135.5" y2="772.2" stroke="#1c1c1c" stroke-width="1.6" />
<line x1="130.5" y1="768.0" x2="135.5" y2="768.0" stroke="#1c1c1c" stroke-width="1.6" />
<line x1="690.0" y1="805.8" x2="685.2" y2="805.8" stroke="#1c1c1c" stroke-width="1.6" />
<text x="123.2" y="863.6" font-size="38" text-anchor="end" font-weight="normal" fill="#000" >10<tspan font-size="23" dy="-19">-3</tspan></text>
<line x1="130.5" y1="764.2" x2="139.5" y2="764.2" stroke="#1c1c1c" stroke-width="1.6" />
<line x1="690.0" y1="764.2" x2="682.5" y2="764.2" stroke="#1c1c1c" stroke-width="1.6" />
<line x1="130.5" y1="739.1" x2="135.5" y2="739.1" stroke="#1c1c1c" stroke-width="1.6" />
<line x1="130.5" y1="724.5" x2="135.5" y2="724.5" stroke="#1c1c1c" stroke-width="1.6" />
<line x1="130.5" y1="714.1" x2="135.5" y2="714.1" stroke="#1c1c1c" stroke-width="1.6" />
<line x1="130.5" y1="706.0" x2="135.5" y2="706.0" stroke="#1c1c1c" stroke-width="1.6" />
<line x1="130.5" y1="699.4" x2="135.5" y2="699.4" stroke="#1c1c1c" stroke-width="1.6" />
<line x1="130.5" y1="693.9" x2="135.5" y2="693.9" stroke="#1c1c1c" stroke-width="1.6" />
<line x1="130.5" y1="689.0" x2="135.5" y2="689.0" stroke="#1c1c1c" stroke-width="1.6" />
<line x1="130.5" y1="684.8" x2="135.5" y2="684.8" stroke="#1c1c1c" stroke-width="1.6" />
<line x1="690.0" y1="722.6" x2="685.2" y2="722.6" stroke="#1c1c1c" stroke-width="1.6" />
<text x="123.2" y="780.5" font-size="38" text-anchor="end" font-weight="normal" fill="#000" >10<tspan font-size="23" dy="-19">-2</tspan></text>
<line x1="130.5" y1="681.0" x2="139.5" y2="681.0" stroke="#1c1c1c" stroke-width="1.6" />
<line x1="690.0" y1="681.0" x2="682.5" y2="681.0" stroke="#1c1c1c" stroke-width="1.6" />
<line x1="130.5" y1="655.9" x2="135.5" y2="655.9" stroke="#1c1c1c" stroke-width="1.6" />
<line x1="130.5" y1="641.3" x2="135.5" y2="641.3" stroke="#1c1c1c" stroke-width="1.6" />
<line x1="130.5" y1="630.9" x2="135.5" y2="630.9" stroke="#1c1c1c" stroke-width="1.6" />
<line x1="130.5" y1="622.8" x2="135.5" y2="622.8" stroke="#1c1c1c" stroke-width="1.6" />
<line x1="130.5" y1="616.3" x2="135.5" y2="616.3" stroke="#1c1c1c" stroke-width="1.6" />
<line x1="130.5" y1="610.7" x2="135.5" y2="610.7" stroke="#1c1c1c" stroke-width="1.6" />
<line x1="130.5" y1="605.9" x2="135.5" y2="605.9" stroke="#1c1c1c" stroke-width="1.6" />
<line x1="130.5" y1="601.6" x2="135.5" y2="601.6" stroke="#1c1c1c" stroke-width="1.6" />
<line x1="690.0" y1="639.4" x2="685.2" y2="639.4" stroke="#1c1c1c" stroke-width="1.6" />
<text x="123.2" y="697.3" font-size="38" text-anchor="end" font-weight="normal" fill="#000" >10<tspan font-size="23" dy="-19">-1</tspan></text>
<line x1="130.5" y1="597.8" x2="139.5" y2="597.8" stroke="#1c1c1c" stroke-width="1.6" />
<text x="121.5" y="614.1" font-size="38" text-anchor="end" font-weight="normal" fill="#000" >10<tspan font-size="23" dy="-19">0</tspan></text>
<text x="130.5" y="1052.5" font-size="39" text-anchor="middle" font-weight="normal" fill="#000" >0</text>
<line x1="200.4" y1="597.8" x2="200.4" y2="602.8" stroke="#1c1c1c" stroke-width="1.6" />
<line x1="200.4" y1="1013.7" x2="200.4" y2="1008.7" stroke="#1c1c1c" stroke-width="1.6" />
<line x1="270.4" y1="597.8" x2="270.4" y2="606.8" stroke="#1c1c1c" stroke-width="1.6" />
<line x1="270.4" y1="1013.7" x2="270.4" y2="1004.7" stroke="#1c1c1c" stroke-width="1.6" />
<text x="270.4" y="1052.5" font-size="39" text-anchor="middle" font-weight="normal" fill="#000" >300</text>
<line x1="340.3" y1="597.8" x2="340.3" y2="602.8" stroke="#1c1c1c" stroke-width="1.6" />
<line x1="340.3" y1="1013.7" x2="340.3" y2="1008.7" stroke="#1c1c1c" stroke-width="1.6" />
<line x1="410.2" y1="597.8" x2="410.2" y2="606.8" stroke="#1c1c1c" stroke-width="1.6" />
<line x1="410.2" y1="1013.7" x2="410.2" y2="1004.7" stroke="#1c1c1c" stroke-width="1.6" />
<text x="410.2" y="1052.5" font-size="39" text-anchor="middle" font-weight="normal" fill="#000" >600</text>
<line x1="480.2" y1="597.8" x2="480.2" y2="602.8" stroke="#1c1c1c" stroke-width="1.6" />
<line x1="480.2" y1="1013.7" x2="480.2" y2="1008.7" stroke="#1c1c1c" stroke-width="1.6" />
<line x1="550.1" y1="597.8" x2="550.1" y2="606.8" stroke="#1c1c1c" stroke-width="1.6" />
<line x1="550.1" y1="1013.7" x2="550.1" y2="1004.7" stroke="#1c1c1c" stroke-width="1.6" />
<text x="550.1" y="1052.5" font-size="39" text-anchor="middle" font-weight="normal" fill="#000" >900</text>
<line x1="620.1" y1="597.8" x2="620.1" y2="602.8" stroke="#1c1c1c" stroke-width="1.6" />
<line x1="620.1" y1="1013.7" x2="620.1" y2="1008.7" stroke="#1c1c1c" stroke-width="1.6" />
<text x="690.0" y="1052.5" font-size="39" text-anchor="middle" font-weight="normal" fill="#000" >1200</text>
<text x="424.0" y="1094.2" font-size="39.3" text-anchor="middle" font-weight="normal" fill="#000" >Sputter Time (s)</text>
<text x="46.5" y="798.5" font-size="39" text-anchor="middle" font-weight="normal" fill="#000" transform="rotate(-90 46.5 798.5)" >Intensity (a.u.)</text>
<text x="146.0" y="625.5" font-size="38" text-anchor="start" font-weight="bold" fill="#000" textLength="17" lengthAdjust="spacingAndGlyphs">c</text>
<text x="130.0" y="583.5" font-size="24" text-anchor="start" font-weight="bold" fill="#0000ff" >LiF/Al</text>
<text x="204.0" y="583.5" font-size="24" text-anchor="start" font-weight="bold" fill="#000080" >TSPO1</text>
<text x="293.0" y="583.5" font-size="24" text-anchor="start" font-weight="bold" fill="#008000" textLength="191.5" lengthAdjust="spacing">DBFPO:TDBA-DI</text>
<text x="512.0" y="583.5" font-size="24" text-anchor="start" font-weight="bold" fill="#800000" >T2fQ</text>
<text x="591.0" y="583.5" font-size="24" text-anchor="start" font-weight="bold" fill="#800080" >NPD</text>
<text x="653.0" y="583.5" font-size="24" text-anchor="start" font-weight="bold" fill="#ff0000" >ITO</text>
<clipPath id="clc"><rect x="130.0" y="597.8" width="560.5" height="417.1"/></clipPath>
<g clip-path="url(#clc)">
<polyline points="131.0,997.9 136.0,993.9 140.6,988.9 145.0,983.9 150.0,984.9 154.6,976.9 159.4,987.9 164.0,996.9 168.6,994.9 173.0,990.3 177.4,999.5 182.0,999.9 187.0,995.9 192.0,998.9 196.6,999.9 201.4,998.9 206.0,994.9 210.5,987.5 214.9,993.9 219.9,992.9 224.5,994.3 228.9,1001.9 233.5,994.3 238.1,1000.9 242.9,999.9 247.3,998.9 251.9,1002.9 256.5,1000.9 261.3,1011.9 265.9,999.9 270.5,1012.9 274.9,992.9 279.9,1002.9 284.5,990.9 288.9,996.9 293.9,992.3 298.5,999.9 303.3,998.9 307.9,977.5 312.5,996.9 316.9,987.9 321.7,1001.9 326.5,990.9 330.9,991.9 335.9,999.9 340.5,965.9 344.9,994.9 349.9,984.9 354.5,999.9 359.3,985.9 363.9,996.9 368.5,993.9 373.3,990.9 377.8,987.9 382.8,992.9 387.2,991.9 391.8,997.9 395.0,999.9 400.6,996.9 405.4,993.9 410.2,1002.9 415.0,984.9 419.8,994.9 424.4,988.9 429.0,987.9 433.6,985.9 438.2,961.5 443.0,988.9 447.8,990.9 453.0,994.9 457.4,990.9 461.8,985.9 466.2,979.9 471.0,1002.9 475.6,998.9 479.9,991.9 484.5,1012.9 489.3,978.9 493.9,996.9 498.9,998.9 503.5,992.9 508.1,986.9 512.9,988.9 517.3,983.9 521.9,979.9 526.5,985.9 531.3,998.9 536.1,999.9 540.5,1007.9 545.3,972.9 549.9,996.9 554.5,989.9 558.9,999.9 563.9,980.9 568.5,982.9 573.5,988.9 577.7,975.9 582.5,996.9 586.9,991.9 591.7,980.9 596.5,988.9 600.9,982.9 605.9,991.9 610.5,992.9 614.9,986.9 619.9,988.9 624.5,987.9 629.3,991.9 633.9,979.9 638.5,980.9 642.9,975.9 644.9,939.9 646.8,889.9 648.8,840.0 651.4,800.0 652.4,754.9 654.8,684.9 656.8,647.4 661.6,658.4 666.2,649.4 670.8,651.6 675.6,648.0 680.4,643.4 684.8,661.0 689.6,669.0" fill="none" stroke="#ff0000" stroke-width="3.2" stroke-linejoin="round" stroke-linecap="round" />
<polyline points="131.0,846.0 133.0,812.0 134.0,794.9 136.6,760.9 140.0,724.9 144.6,685.9 154.6,679.9 159.4,682.9 164.0,687.9 169.0,690.5 173.0,690.5 177.4,685.9 182.6,678.5 187.0,677.6 192.0,686.9 201.0,676.6 205.4,706.9 208.9,746.9 212.9,782.9 217.3,816.9 219.9,860.0 224.9,899.9 229.9,927.9 234.9,951.9 239.9,969.9 246.9,984.9 256.9,994.9 265.9,998.9 274.9,1004.3 279.9,1005.3 284.9,1009.9 294.9,1008.9 304.9,1010.9 314.9,1009.5 324.9,1009.9 334.9,1007.9 344.9,1008.9 354.9,1012.9 364.9,1009.9 374.9,1010.9 384.8,1008.9 394.8,1009.9 404.8,1008.9 414.8,1010.9 419.0,1009.9 435.0,1008.9 451.0,1012.3 465.0,1012.9 484.9,1012.3 504.9,1011.9 514.9,1007.9 534.9,1003.9 554.9,1001.9 574.9,999.9 594.9,998.9 614.9,996.9 624.9,998.9 634.9,997.9 654.8,997.9 674.8,999.5 689.6,996.9" fill="none" stroke="#0000ff" stroke-width="3.2" stroke-linejoin="round" stroke-linecap="round" />
<polyline points="131.0,1003.9 137.0,1006.3 145.0,1004.3" fill="none" stroke="#008000" stroke-width="3.2" stroke-linejoin="round" stroke-linecap="round" />
<polyline points="157.0,1014.3 163.0,997.9 168.0,1001.9 173.0,995.9 177.4,996.9 182.0,1003.9 187.0,994.3 192.0,996.9 197.0,999.9 202.0,998.9 206.0,1001.9 210.9,1005.9 218.9,1002.3 223.9,1013.9 227.9,991.9 231.9,969.9 234.5,962.9 238.1,955.9 242.9,960.9 246.9,949.9 252.9,929.9 257.9,913.9 261.3,901.9 262.3,889.9 262.9,860.0 264.3,820.0 265.9,790.9 268.9,770.9 272.9,746.9 276.5,726.9 280.9,706.9 284.9,691.5 289.9,689.3 294.3,689.3 298.9,693.3 303.3,695.3 308.1,704.9 312.9,684.9 317.3,669.0 321.9,665.0 326.5,679.9 331.3,662.0 335.3,662.4 340.5,665.4 344.9,663.0 349.7,657.4 354.5,663.0 358.9,663.6 363.7,683.9 368.3,667.0 372.9,677.0 377.8,661.0 382.4,647.0 387.0,668.0 391.6,654.0 395.0,659.0 400.6,665.0 405.4,650.6 410.2,656.0 415.0,633.4 419.8,659.4 424.4,640.0 429.0,672.0 433.6,660.0 438.2,677.4 443.0,671.0 447.8,683.3 453.0,674.6 457.4,672.6 461.8,721.9 466.2,694.9 471.0,707.9 475.6,686.9 479.9,720.5 484.5,728.5 489.3,731.9 493.9,784.9 498.9,754.9 503.5,778.9 508.1,769.3 509.9,816.9 509.9,830.0 511.3,870.0 512.5,908.9 516.9,911.5 521.3,913.5 525.9,917.9 530.9,930.9 535.9,935.9 540.3,943.9 544.9,954.9 549.9,950.9 554.5,948.3 558.9,964.3 563.9,933.5 568.9,948.3 573.5,938.3 577.9,959.9 582.5,972.9 586.9,970.9 591.7,977.9 596.5,976.3 600.9,980.9 605.9,984.9 610.5,979.9 614.9,989.9 619.9,988.9 624.5,975.9 629.3,987.9 633.9,985.9 638.5,975.5 643.3,992.9 647.8,993.5 652.8,991.9 657.2,990.3 661.8,994.9 666.4,994.3 670.8,992.9 675.8,990.9 680.4,991.9 684.8,992.9 689.6,997.9" fill="none" stroke="#008000" stroke-width="3.2" stroke-linejoin="round" stroke-linecap="round" />
<polyline points="131.0,1009.9 137.0,1010.9 145.0,1011.5 155.0,1007.9 163.0,1007.9 168.0,1010.9 177.0,1007.9 182.0,1008.3 187.0,1010.9 195.0,1007.9 201.0,1009.9 202.0,969.9 203.4,919.9 205.0,860.0 207.0,820.0 208.9,774.9 211.3,724.9 214.5,675.0 219.3,653.0 223.9,672.0 228.5,674.0 233.3,657.6 238.1,669.4 242.5,658.0 247.9,664.0 254.5,664.0 261.3,667.0 266.1,675.0 269.3,700.9 272.9,734.9 275.9,764.9 277.3,816.9 277.3,830.0 278.5,899.9 279.9,969.9 280.9,1005.9 284.9,1008.9 290.9,1005.9 298.9,1004.9 304.9,1006.9 311.9,1002.9 316.9,1007.9 324.9,1008.9 334.9,1004.9 340.9,1005.9 346.9,1008.9 354.9,1003.9 360.9,1004.9 367.9,1009.9 374.9,1005.9 384.8,1008.9 390.8,1002.9 395.0,1006.9 405.0,1007.9 415.0,1008.9 423.0,1002.9 431.0,1009.9 439.0,1003.9 447.0,1006.9 455.0,1005.9 465.0,1004.9 471.0,1010.9 478.9,1007.9 484.9,1009.9 494.9,1007.9 502.9,1006.9 507.9,1010.9 512.9,1003.9 522.9,1006.9 534.9,1004.9 542.9,1006.9 550.9,1004.9 558.9,1008.9 566.9,1006.9 576.9,1009.9 586.9,1005.9 594.9,1004.3 600.9,1008.9 608.9,1009.9 614.9,1006.9 618.9,1008.9 624.9,1004.9 632.9,1007.9 640.9,1005.9 646.8,1007.9 652.8,1006.9 660.8,1003.5 668.8,1010.9 678.8,1006.9 689.6,1009.9" fill="none" stroke="#000080" stroke-width="3.2" stroke-linejoin="round" stroke-linecap="round" />
<polyline points="131.0,1013.5 274.9,1013.1 294.9,1010.9 310.9,1007.9 324.9,1003.9 336.9,1001.9 344.9,999.5 354.9,997.9 368.9,997.5 380.8,998.9 395.0,1002.9 405.0,1003.9 415.0,1007.9 424.4,1008.9 430.0,1009.9 433.6,997.9 438.2,989.9 443.0,982.9 447.8,957.9 453.0,986.9 457.4,994.9 461.8,987.9 466.2,971.5 471.0,971.5 475.6,1005.9 479.9,991.9 481.9,939.9 484.5,889.9 486.9,860.0 490.9,830.0 492.3,816.9 495.9,774.9 498.9,738.9 503.5,712.9 507.9,678.0 512.5,664.4 517.3,673.0 521.9,665.0 526.5,677.0 531.3,661.0 536.1,665.0 540.9,665.4 545.3,677.4 549.9,680.9 554.5,673.0 558.9,665.4 563.9,673.0 568.5,669.4 573.5,673.4 577.7,656.4 579.9,690.9 582.5,722.9 586.9,732.9 588.3,760.9 589.3,794.9 589.9,816.9 591.9,840.0 592.9,880.0 596.5,911.9 600.9,948.9 605.9,988.9 610.5,975.5 614.9,984.9 619.9,996.9 624.5,1000.9 629.3,992.9 633.9,998.9 638.5,998.9 643.3,1002.9 647.8,988.9 652.8,980.9 657.2,983.9 661.8,979.9 666.4,981.9 670.8,976.9 675.8,988.9 680.4,996.9 684.8,980.9 689.6,982.9" fill="none" stroke="#800000" stroke-width="3.2" stroke-linejoin="round" stroke-linecap="round" />
<polyline points="131.0,1015.5 280.9,1015.5 284.9,1013.1 304.9,1011.5 324.9,1009.9 344.9,1007.9 354.9,1004.9 364.9,1002.9 376.8,1001.5 390.8,999.9 395.0,998.9 405.0,998.3 415.0,999.5 425.0,998.9 435.0,999.9 445.0,999.5 455.0,998.3 465.0,999.9 475.0,998.9 484.9,999.9 494.9,998.9 504.9,999.5 514.9,999.9 522.9,1000.9 530.9,999.9 540.9,997.9 549.9,999.9 558.9,999.5 568.9,998.9 577.9,998.3 578.5,959.9 579.3,880.0 580.5,800.0 581.3,774.9 581.9,734.9 582.5,668.0 586.9,670.6 591.7,664.0 596.5,668.0 601.3,664.0 605.9,668.6 610.5,651.0 615.3,657.4 619.9,652.0 624.5,674.6 629.3,661.0 633.9,659.4 638.5,662.0 643.3,651.0 647.8,638.6 648.8,694.9 649.2,754.9 650.0,816.9 651.2,880.0 652.0,959.9 652.8,988.9 657.2,989.9 661.8,990.9 666.4,990.9 670.8,989.9 675.8,987.9 680.4,991.9 684.8,993.9 689.6,990.9" fill="none" stroke="#800080" stroke-width="3.2" stroke-linejoin="round" stroke-linecap="round" />
</g>
<rect x="888.0" y="597.8" width="570.0" height="423.8" fill="none" stroke="#1c1c1c" stroke-width="1.6"/>
<line x1="888.0" y1="1021.6" x2="897.0" y2="1021.6" stroke="#1c1c1c" stroke-width="1.6" />
<line x1="888.0" y1="996.5" x2="893.0" y2="996.5" stroke="#1c1c1c" stroke-width="1.6" />
<line x1="888.0" y1="981.5" x2="893.0" y2="981.5" stroke="#1c1c1c" stroke-width="1.6" />
<line x1="888.0" y1="970.9" x2="893.0" y2="970.9" stroke="#1c1c1c" stroke-width="1.6" />
<line x1="888.0" y1="962.7" x2="893.0" y2="962.7" stroke="#1c1c1c" stroke-width="1.6" />
<line x1="888.0" y1="956.0" x2="893.0" y2="956.0" stroke="#1c1c1c" stroke-width="1.6" />
<line x1="888.0" y1="950.3" x2="893.0" y2="950.3" stroke="#1c1c1c" stroke-width="1.6" />
<line x1="888.0" y1="945.4" x2="893.0" y2="945.4" stroke="#1c1c1c" stroke-width="1.6" />
<line x1="888.0" y1="941.1" x2="893.0" y2="941.1" stroke="#1c1c1c" stroke-width="1.6" />
<line x1="1458.0" y1="979.6" x2="1453.2" y2="979.6" stroke="#1c1c1c" stroke-width="1.6" />
<text x="880.2" y="1037.9" font-size="38" text-anchor="end" font-weight="normal" fill="#000" >10<tspan font-size="23" dy="-19">-5</tspan></text>
<line x1="888.0" y1="937.2" x2="897.0" y2="937.2" stroke="#1c1c1c" stroke-width="1.6" />
<line x1="1458.0" y1="937.2" x2="1450.5" y2="937.2" stroke="#1c1c1c" stroke-width="1.6" />
<line x1="888.0" y1="911.7" x2="893.0" y2="911.7" stroke="#1c1c1c" stroke-width="1.6" />
<line x1="888.0" y1="896.7" x2="893.0" y2="896.7" stroke="#1c1c1c" stroke-width="1.6" />
<line x1="888.0" y1="886.1" x2="893.0" y2="886.1" stroke="#1c1c1c" stroke-width="1.6" />
<line x1="888.0" y1="877.9" x2="893.0" y2="877.9" stroke="#1c1c1c" stroke-width="1.6" />
<line x1="888.0" y1="871.2" x2="893.0" y2="871.2" stroke="#1c1c1c" stroke-width="1.6" />
<line x1="888.0" y1="865.5" x2="893.0" y2="865.5" stroke="#1c1c1c" stroke-width="1.6" />
<line x1="888.0" y1="860.6" x2="893.0" y2="860.6" stroke="#1c1c1c" stroke-width="1.6" />
<line x1="888.0" y1="856.3" x2="893.0" y2="856.3" stroke="#1c1c1c" stroke-width="1.6" />
<line x1="1458.0" y1="894.8" x2="1453.2" y2="894.8" stroke="#1c1c1c" stroke-width="1.6" />
<text x="880.2" y="953.5" font-size="38" text-anchor="end" font-weight="normal" fill="#000" >10<tspan font-size="23" dy="-19">-4</tspan></text>
<line x1="888.0" y1="852.4" x2="897.0" y2="852.4" stroke="#1c1c1c" stroke-width="1.6" />
<line x1="1458.0" y1="852.4" x2="1450.5" y2="852.4" stroke="#1c1c1c" stroke-width="1.6" />
<line x1="888.0" y1="826.9" x2="893.0" y2="826.9" stroke="#1c1c1c" stroke-width="1.6" />
<line x1="888.0" y1="811.9" x2="893.0" y2="811.9" stroke="#1c1c1c" stroke-width="1.6" />
<line x1="888.0" y1="801.3" x2="893.0" y2="801.3" stroke="#1c1c1c" stroke-width="1.6" />
<line x1="888.0" y1="793.1" x2="893.0" y2="793.1" stroke="#1c1c1c" stroke-width="1.6" />
<line x1="888.0" y1="786.4" x2="893.0" y2="786.4" stroke="#1c1c1c" stroke-width="1.6" />
<line x1="888.0" y1="780.7" x2="893.0" y2="780.7" stroke="#1c1c1c" stroke-width="1.6" />
<line x1="888.0" y1="775.8" x2="893.0" y2="775.8" stroke="#1c1c1c" stroke-width="1.6" />
<line x1="888.0" y1="771.5" x2="893.0" y2="771.5" stroke="#1c1c1c" stroke-width="1.6" />
<line x1="1458.0" y1="810.0" x2="1453.2" y2="810.0" stroke="#1c1c1c" stroke-width="1.6" />
<text x="880.2" y="868.7" font-size="38" text-anchor="end" font-weight="normal" fill="#000" >10<tspan font-size="23" dy="-19">-3</tspan></text>
<line x1="888.0" y1="767.6" x2="897.0" y2="767.6" stroke="#1c1c1c" stroke-width="1.6" />
<line x1="1458.0" y1="767.6" x2="1450.5" y2="767.6" stroke="#1c1c1c" stroke-width="1.6" />
<line x1="888.0" y1="742.1" x2="893.0" y2="742.1" stroke="#1c1c1c" stroke-width="1.6" />
<line x1="888.0" y1="727.1" x2="893.0" y2="727.1" stroke="#1c1c1c" stroke-width="1.6" />
<line x1="888.0" y1="716.5" x2="893.0" y2="716.5" stroke="#1c1c1c" stroke-width="1.6" />
<line x1="888.0" y1="708.3" x2="893.0" y2="708.3" stroke="#1c1c1c" stroke-width="1.6" />
<line x1="888.0" y1="701.6" x2="893.0" y2="701.6" stroke="#1c1c1c" stroke-width="1.6" />
<line x1="888.0" y1="695.9" x2="893.0" y2="695.9" stroke="#1c1c1c" stroke-width="1.6" />
<line x1="888.0" y1="691.0" x2="893.0" y2="691.0" stroke="#1c1c1c" stroke-width="1.6" />
<line x1="888.0" y1="686.7" x2="893.0" y2="686.7" stroke="#1c1c1c" stroke-width="1.6" />
<line x1="1458.0" y1="725.2" x2="1453.2" y2="725.2" stroke="#1c1c1c" stroke-width="1.6" />
<text x="880.2" y="783.9" font-size="38" text-anchor="end" font-weight="normal" fill="#000" >10<tspan font-size="23" dy="-19">-2</tspan></text>
<line x1="888.0" y1="682.8" x2="897.0" y2="682.8" stroke="#1c1c1c" stroke-width="1.6" />
<line x1="1458.0" y1="682.8" x2="1450.5" y2="682.8" stroke="#1c1c1c" stroke-width="1.6" />
<line x1="888.0" y1="657.3" x2="893.0" y2="657.3" stroke="#1c1c1c" stroke-width="1.6" />
<line x1="888.0" y1="642.3" x2="893.0" y2="642.3" stroke="#1c1c1c" stroke-width="1.6" />
<line x1="888.0" y1="631.7" x2="893.0" y2="631.7" stroke="#1c1c1c" stroke-width="1.6" />
<line x1="888.0" y1="623.5" x2="893.0" y2="623.5" stroke="#1c1c1c" stroke-width="1.6" />
<line x1="888.0" y1="616.8" x2="893.0" y2="616.8" stroke="#1c1c1c" stroke-width="1.6" />
<line x1="888.0" y1="611.1" x2="893.0" y2="611.1" stroke="#1c1c1c" stroke-width="1.6" />
<line x1="888.0" y1="606.2" x2="893.0" y2="606.2" stroke="#1c1c1c" stroke-width="1.6" />
<line x1="888.0" y1="601.9" x2="893.0" y2="601.9" stroke="#1c1c1c" stroke-width="1.6" />
<line x1="1458.0" y1="640.4" x2="1453.2" y2="640.4" stroke="#1c1c1c" stroke-width="1.6" />
<text x="880.2" y="699.1" font-size="38" text-anchor="end" font-weight="normal" fill="#000" >10<tspan font-size="23" dy="-19">-1</tspan></text>
<line x1="888.0" y1="598.0" x2="897.0" y2="598.0" stroke="#1c1c1c" stroke-width="1.6" />
<text x="878.5" y="614.3" font-size="38" text-anchor="end" font-weight="normal" fill="#000" >10<tspan font-size="23" dy="-19">0</tspan></text>
<text x="888.0" y="1062.0" font-size="39" text-anchor="middle" font-weight="normal" fill="#000" >0</text>
<line x1="959.2" y1="597.8" x2="959.2" y2="602.8" stroke="#1c1c1c" stroke-width="1.6" />
<line x1="1030.5" y1="597.8" x2="1030.5" y2="606.8" stroke="#1c1c1c" stroke-width="1.6" />
<text x="1030.5" y="1062.0" font-size="39" text-anchor="middle" font-weight="normal" fill="#000" >300</text>
<line x1="1101.8" y1="597.8" x2="1101.8" y2="602.8" stroke="#1c1c1c" stroke-width="1.6" />
<line x1="1173.0" y1="597.8" x2="1173.0" y2="606.8" stroke="#1c1c1c" stroke-width="1.6" />
<text x="1173.0" y="1062.0" font-size="39" text-anchor="middle" font-weight="normal" fill="#000" >600</text>
<line x1="1244.2" y1="597.8" x2="1244.2" y2="602.8" stroke="#1c1c1c" stroke-width="1.6" />
<line x1="1315.5" y1="597.8" x2="1315.5" y2="606.8" stroke="#1c1c1c" stroke-width="1.6" />
<text x="1315.5" y="1062.0" font-size="39" text-anchor="middle" font-weight="normal" fill="#000" >900</text>
<line x1="1386.8" y1="597.8" x2="1386.8" y2="602.8" stroke="#1c1c1c" stroke-width="1.6" />
<text x="1458.0" y="1062.0" font-size="39" text-anchor="middle" font-weight="normal" fill="#000" >1200</text>
<line x1="935.5" y1="1021.6" x2="935.5" y2="1016.1" stroke="#1c1c1c" stroke-width="1.6" />
<line x1="983.0" y1="1021.6" x2="983.0" y2="1016.1" stroke="#1c1c1c" stroke-width="1.6" />
<line x1="1030.5" y1="1021.6" x2="1030.5" y2="1012.6" stroke="#1c1c1c" stroke-width="1.6" />
<line x1="1078.0" y1="1021.6" x2="1078.0" y2="1016.1" stroke="#1c1c1c" stroke-width="1.6" />
<line x1="1125.5" y1="1021.6" x2="1125.5" y2="1016.1" stroke="#1c1c1c" stroke-width="1.6" />
<line x1="1173.0" y1="1021.6" x2="1173.0" y2="1012.6" stroke="#1c1c1c" stroke-width="1.6" />
<line x1="1220.5" y1="1021.6" x2="1220.5" y2="1016.1" stroke="#1c1c1c" stroke-width="1.6" />
<line x1="1268.0" y1="1021.6" x2="1268.0" y2="1016.1" stroke="#1c1c1c" stroke-width="1.6" />
<line x1="1315.5" y1="1021.6" x2="1315.5" y2="1012.6" stroke="#1c1c1c" stroke-width="1.6" />
<line x1="1363.0" y1="1021.6" x2="1363.0" y2="1016.1" stroke="#1c1c1c" stroke-width="1.6" />
<line x1="1410.5" y1="1021.6" x2="1410.5" y2="1016.1" stroke="#1c1c1c" stroke-width="1.6" />
<text x="1187.5" y="1104.3" font-size="40.1" text-anchor="middle" font-weight="normal" fill="#000" >Sputter Time (s)</text>
<text x="801.5" y="802.0" font-size="39" text-anchor="middle" font-weight="normal" fill="#000" transform="rotate(-90 801.5 802.0)" >Intensity (a.u.)</text>
<text x="912.0" y="631.0" font-size="38" text-anchor="start" font-weight="bold" fill="#000" textLength="20" lengthAdjust="spacingAndGlyphs">d</text>
<text x="887.0" y="583.5" font-size="24.4" text-anchor="start" font-weight="bold" fill="#0000ff" >LiF/Al</text>
<text x="963.0" y="583.5" font-size="24.4" text-anchor="start" font-weight="bold" fill="#000080" >TSPO1</text>
<text x="1053.0" y="583.5" font-size="24.4" text-anchor="start" font-weight="bold" fill="#008000" textLength="196" lengthAdjust="spacing">DBFPO:TDBA-DI</text>
<text x="1279.5" y="583.5" font-size="24.4" text-anchor="start" font-weight="bold" fill="#800000" >T2fQ</text>
<text x="1358.5" y="583.5" font-size="24.4" text-anchor="start" font-weight="bold" fill="#800080" >NPD</text>
<text x="1421.0" y="583.5" font-size="24.4" text-anchor="start" font-weight="bold" fill="#ff0000" >ITO</text>
<clipPath id="cld"><rect x="887.5" y="597.8" width="571.0" height="425.0"/></clipPath>
<g clip-path="url(#cld)">
<polyline points="889.0,1021.3 893.4,993.9 898.6,1000.9 903.0,988.9 908.0,974.9 913.0,971.9 918.0,964.9 922.4,938.9 927.0,941.9 931.6,956.9 936.4,944.9 941.0,949.9 946.0,957.9 951.0,959.9 955.4,991.9 960.0,951.9 964.6,952.5 969.3,1004.9 973.9,970.9 978.9,1021.3 983.9,963.9 988.9,966.9 992.9,989.9 997.9,985.9 1002.9,1012.9 1007.9,1021.3 1012.5,977.9 1016.9,982.9 1021.9,991.9 1026.9,994.9 1031.3,994.9 1036.3,980.9 1040.9,1021.3 1045.9,971.9 1050.9,995.9 1055.3,989.9 1059.9,1003.9 1064.9,981.9 1069.5,1000.9 1074.3,988.9 1079.3,976.9 1083.9,981.9 1088.5,978.9 1092.9,1008.9 1097.9,969.9 1102.9,968.9 1107.5,988.9 1112.5,985.9 1116.9,978.9 1121.9,990.9 1126.9,971.9 1131.5,974.9 1136.2,953.9 1140.8,962.9 1145.4,957.9 1150.2,1003.9 1154.8,968.9 1160.0,958.9 1164.4,963.9 1169.2,954.9 1174.0,959.9 1179.0,956.9 1183.6,935.9 1188.4,968.5 1193.2,941.9 1198.0,982.9 1202.6,962.9 1207.2,897.9 1212.0,994.9 1217.0,934.5 1222.0,958.9 1226.6,1021.3 1231.4,980.9 1236.0,968.9 1240.6,953.9 1245.3,968.9 1249.9,983.9 1254.9,985.9 1259.5,973.9 1263.9,988.9 1268.9,997.9 1273.5,974.9 1278.3,953.9 1283.1,969.9 1287.9,938.9 1292.5,984.9 1297.3,972.9 1302.1,962.9 1306.9,980.9 1311.7,954.9 1316.5,930.9 1321.3,1003.9 1325.9,978.9 1330.5,951.9 1335.5,1021.3 1340.3,960.9 1344.9,948.9 1349.9,971.9 1354.3,971.9 1359.3,934.9 1363.9,947.9 1368.5,987.9 1373.3,976.9 1377.9,983.9 1382.9,993.9 1387.5,928.9 1392.3,1004.9 1397.1,935.9 1401.9,942.9 1406.9,932.9 1411.4,954.9 1416.2,932.9 1420.8,913.9 1425.4,900.9 1430.2,874.0 1435.2,900.9 1439.8,871.0 1441.8,835.0 1442.8,805.0 1441.8,774.9 1443.8,714.9 1444.8,693.3 1449.4,681.9 1454.2,689.3 1457.8,675.0 1459.2,671.0" fill="none" stroke="#ff0000" stroke-width="3.2" stroke-linejoin="round" stroke-linecap="round" />
<polyline points="889.0,865.0 890.0,825.0 892.0,784.9 894.0,754.9 896.0,730.9 898.6,710.9 903.0,711.3 908.0,696.9 912.6,678.9 917.4,689.3 922.0,681.9 927.0,677.4 931.6,682.9 936.4,704.9 941.0,670.6 946.0,684.5 950.6,660.0 955.4,650.6 960.0,675.0 964.6,698.9 967.9,730.9 970.9,764.9 973.9,794.9 976.9,825.0 980.9,855.0 984.9,888.9 988.9,924.9 992.9,951.9 997.9,966.9 1002.9,981.9 1010.9,993.9 1018.9,1003.9 1028.9,1009.9 1036.9,1012.9 1046.9,1014.5 1056.9,1016.9 1066.9,1014.9 1076.9,1017.3 1086.9,1015.9 1096.9,1016.9 1106.9,1014.9 1116.9,1017.3 1126.9,1015.9 1136.8,1016.9 1146.8,1015.9 1156.8,1017.9 1166.8,1017.9 1174.8,1019.9 1182.8,1020.9 1200.0,1021.1 1207.2,1018.1 1210.0,1021.1 1457.8,1021.1" fill="none" stroke="#0000ff" stroke-width="3.2" stroke-linejoin="round" stroke-linecap="round" />
<polyline points="889.0,1012.9 895.0,1013.9 903.0,1013.9 909.0,1012.5 917.0,1014.5 923.0,1015.9 928.0,1018.9" fill="none" stroke="#008000" stroke-width="3.2" stroke-linejoin="round" stroke-linecap="round" />
<polyline points="931.6,946.9 934.0,974.9 936.4,1008.9 941.0,1012.9 945.4,1002.5 950.4,1001.9 955.0,996.9 960.0,1017.9 965.0,1004.9 969.3,1010.9 974.3,1004.9 978.9,1000.5 983.9,1012.9 988.9,1007.9 993.3,1001.9 997.9,1012.9 1002.9,1014.9 1007.9,1004.9 1011.9,988.9 1015.9,964.9 1020.9,928.9 1024.9,900.9 1028.9,875.0 1032.9,845.0 1036.9,821.0 1036.9,816.9 1040.9,794.9 1044.9,776.9 1050.9,756.9 1055.3,732.9 1059.9,719.9 1064.5,682.9 1069.9,710.9 1074.5,709.9 1078.9,656.6 1083.7,691.9 1088.3,641.0 1093.3,691.9 1097.9,689.9 1102.9,661.4 1107.5,669.0 1112.5,642.0 1116.9,637.0 1121.7,670.6 1126.5,670.6 1131.5,662.6 1136.2,660.0 1140.8,660.0 1145.4,669.0 1150.2,634.0 1154.8,679.9 1160.0,654.0 1164.4,662.6 1169.2,652.0 1174.0,670.4 1179.0,653.6 1183.6,660.6 1188.4,678.5 1193.2,670.6 1198.0,681.9 1202.6,650.0 1207.2,685.9 1212.0,695.9 1217.0,677.4 1222.0,682.5 1226.6,705.3 1231.4,699.9 1236.0,719.9 1240.6,731.9 1244.9,758.9 1249.9,764.9 1254.9,778.5 1259.5,785.9 1262.9,802.9 1261.9,805.0 1264.9,821.0 1268.9,843.0 1273.9,846.0 1278.3,875.0 1283.1,901.9 1287.9,915.9 1292.5,916.9 1297.3,938.9 1302.1,953.9 1306.9,957.9 1311.7,970.9 1316.5,982.9 1321.3,971.9 1325.9,985.9 1330.5,986.9 1335.5,991.9 1340.3,994.5 1344.9,993.9 1349.9,992.9 1354.3,996.5 1359.3,992.9 1363.9,993.9 1368.5,997.9 1373.3,991.9 1377.9,1000.9 1382.9,993.9 1387.5,1002.9 1392.3,1007.9 1397.1,1003.5 1401.9,1010.5 1406.9,1007.3 1411.4,1010.9 1416.2,998.9 1420.8,1000.9 1425.4,1004.9 1430.2,1003.9 1435.2,1005.9 1439.8,1002.9 1444.8,994.9 1449.4,999.9 1454.2,1000.9 1457.8,997.9" fill="none" stroke="#008000" stroke-width="3.2" stroke-linejoin="round" stroke-linecap="round" />
<polyline points="889.0,1012.9 893.0,1015.9 898.6,1009.9 903.0,1016.9 908.0,1014.5 913.0,1014.9 918.0,1014.9 923.0,1016.5 928.0,1015.9 933.0,1015.9 938.0,1014.5 943.0,1014.9 948.0,1014.5 952.0,1009.9 956.0,1008.9 959.0,992.9 961.4,960.9 963.4,924.9 965.4,885.0 967.3,845.0 969.3,805.0 970.5,774.9 972.1,724.9 974.3,678.9 978.9,680.9 983.7,678.0 988.5,679.9 992.9,673.4 997.3,672.4 1002.9,680.5 1007.9,678.0 1012.5,678.5 1017.3,676.0 1021.9,679.3 1026.5,681.9 1028.9,724.9 1031.9,766.9 1032.9,805.0 1034.3,835.0 1035.9,885.0 1038.5,924.9 1040.9,964.9 1042.9,994.9 1045.3,1011.9 1050.9,1014.9 1058.9,1017.9 1066.9,1014.9 1072.9,1014.5 1077.9,1017.3 1084.9,1014.9 1090.9,1014.5 1097.9,1014.9 1102.9,1016.9 1107.3,1011.3 1112.9,1016.9 1120.9,1015.9 1130.9,1013.9 1137.8,1014.9 1140.8,1017.9 1145.2,1013.9 1150.8,1016.9 1158.8,1011.9 1160.0,1011.9 1166.0,1015.9 1174.0,1016.9 1183.6,1004.9 1188.4,1014.9 1193.2,1015.9 1202.6,1010.9 1210.0,1015.9 1217.0,1009.9 1226.6,1014.9 1236.0,1014.5 1240.6,1016.9 1245.3,1013.9 1249.9,1017.9 1259.5,1014.5 1263.9,1012.9 1268.9,1019.9 1278.3,1012.9 1287.9,1016.9 1297.3,1018.9 1306.9,1014.9 1316.5,1012.9 1325.9,1019.9 1335.5,1015.9 1341.9,1018.9 1349.9,1015.3 1354.3,1014.9 1363.9,1014.5 1373.3,1015.9 1382.9,1015.9 1392.3,1015.3 1401.9,1016.5 1411.4,1015.9 1416.2,1013.9 1420.8,1017.3 1430.2,1009.9 1435.2,1015.9 1439.8,1017.9 1449.4,1016.9 1457.8,1015.9" fill="none" stroke="#000080" stroke-width="3.2" stroke-linejoin="round" stroke-linecap="round" />
<polyline points="889.0,1021.5 1152.8,1021.5 1162.8,1019.9 1172.8,1016.9 1160.0,1021.9 1170.0,1016.9 1180.0,1012.9 1193.2,1007.9 1207.2,1003.9 1217.0,1001.9 1226.6,1003.3 1234.4,1001.9 1240.6,1004.5 1249.9,1006.9 1259.5,1009.9 1268.9,1011.9 1269.5,964.9 1270.3,904.9 1271.5,845.0 1272.3,805.0 1272.3,764.9 1273.1,720.9 1273.5,676.0 1278.3,666.6 1283.1,671.4 1287.9,689.9 1292.5,685.9 1297.3,673.4 1302.1,678.5 1306.9,682.5 1311.7,670.0 1316.5,679.9 1321.3,692.9 1325.9,704.5 1330.5,690.9 1335.5,675.4 1340.3,679.3 1344.9,690.9 1345.5,734.9 1346.3,784.9 1345.5,805.0 1346.9,865.0 1347.9,944.9 1348.9,1021.5 1457.8,1021.5" fill="none" stroke="#800000" stroke-width="3.2" stroke-linejoin="round" stroke-linecap="round" />
<polyline points="889.0,875.0 891.0,894.9 894.0,914.9 896.0,944.9 898.0,970.9 901.0,984.9 907.0,1004.9 913.0,1010.9 919.0,1014.5 926.0,1012.9 931.0,1015.9 936.0,1017.9 941.0,1014.9 946.0,1015.9 951.0,1019.9 956.0,1015.9 960.0,1004.9 965.0,988.9 969.3,968.9 973.9,953.9 978.9,948.5 983.9,950.5 988.9,960.9 994.9,972.9 1000.9,985.9 1006.9,996.9 1012.9,1002.9 1020.9,1008.9 1028.9,1012.9 1038.9,1015.9 1048.9,1017.3 1058.9,1018.5 1072.9,1018.9 1082.9,1018.5 1092.9,1019.3 1102.9,1018.9 1112.9,1015.9 1122.9,1018.5 1132.9,1018.9 1142.8,1017.9 1152.8,1016.5 1160.0,1017.9 1170.0,1009.9 1180.0,1002.9 1188.0,988.9 1198.0,974.9 1207.2,961.9 1212.0,948.9 1214.4,984.9 1217.0,1012.9 1222.0,1012.9 1226.6,1011.9 1231.4,1009.9 1240.6,1010.9 1249.9,1010.9 1259.5,1009.9 1268.9,1007.9 1273.5,1010.9 1278.3,1007.9 1287.9,1009.9 1292.5,1006.9 1297.3,1008.9 1306.9,1009.9 1316.5,1007.3 1325.9,1009.3 1330.5,1006.9 1332.3,984.9 1335.5,924.9 1338.9,845.0 1340.9,805.0 1342.9,784.9 1344.9,744.9 1347.5,694.9 1349.3,673.0 1353.9,680.9 1358.9,650.6 1363.7,665.0 1368.5,679.3 1373.3,665.0 1377.9,670.6 1382.9,690.5 1387.5,661.0 1392.3,676.6 1397.1,678.5 1401.9,653.4 1406.9,672.0 1411.4,670.4 1416.2,675.0 1420.8,682.5 1422.8,714.9 1425.4,764.9 1426.8,805.0 1428.8,845.0 1430.8,894.9 1433.8,944.9 1436.8,984.9 1439.8,1018.9 1444.8,1020.5 1457.8,1020.1" fill="none" stroke="#800080" stroke-width="3.2" stroke-linejoin="round" stroke-linecap="round" />
</g>
</g>
</svg>
</body></html>
